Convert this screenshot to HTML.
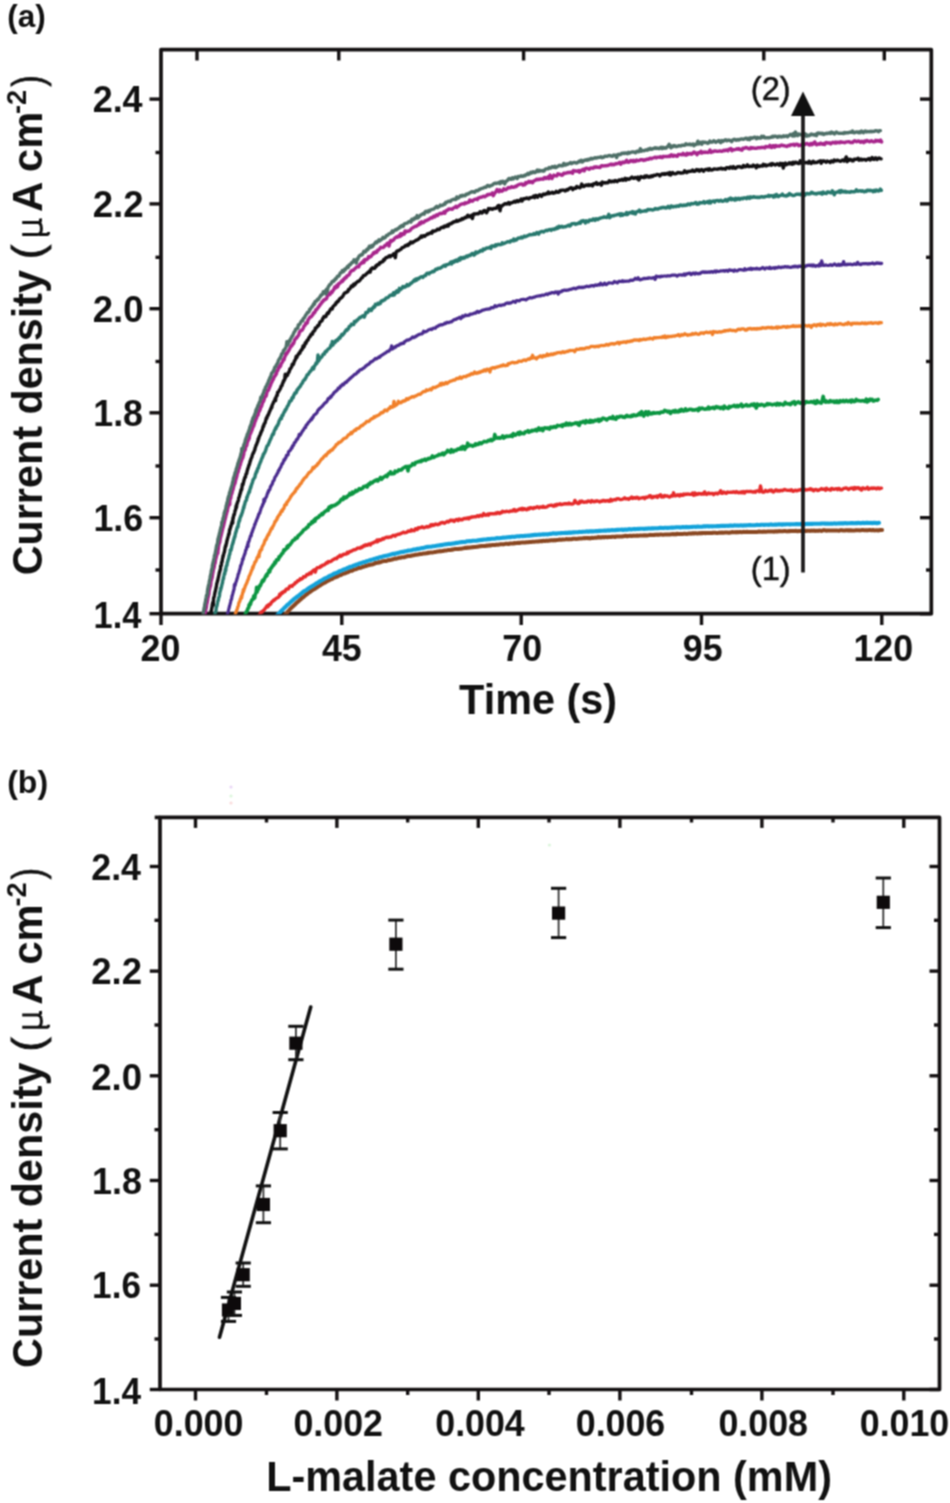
<!DOCTYPE html>
<html><head><meta charset="utf-8"><style>
html,body{margin:0;padding:0;background:#fff;width:950px;height:1503px;overflow:hidden}
svg{display:block;will-change:transform}
text{font-family:"Liberation Sans",sans-serif;fill:#111}
</style></head><body>
<svg width="950" height="1503" viewBox="0 0 950 1503">
<defs><filter id="soft" filterUnits="userSpaceOnUse" x="0" y="0" width="950" height="1503" color-interpolation-filters="sRGB"><feConvolveMatrix order="3" kernelMatrix="1 2 1 2 4 2 1 2 1" divisor="16" edgeMode="duplicate"/></filter></defs>
<g filter="url(#soft)">
<rect width="950" height="1503" fill="#fff"/>
<text transform="translate(7.30,27.20) scale(1.0000,1.0000)" font-size="31.5" text-anchor="start" font-weight="bold" >(a)</text>
<rect x="161.0" y="49.7" width="770.3" height="564.0" fill="none" stroke="#141112" stroke-width="3.7" stroke-linejoin="round"/>
<defs><clipPath id="ca"><rect x="163" y="51" width="766" height="563.2"/></clipPath></defs>
<g clip-path="url(#ca)" fill="none" stroke-linejoin="round" stroke-linecap="round">
<polyline points="280.8,620.2 281.4,618.8 282.0,618.4 282.6,617.5 283.3,616.7 283.9,616.0 284.6,615.0 285.2,614.5 285.9,613.7 286.6,613.5 287.2,612.3 287.9,611.5 288.6,610.8 289.3,610.0 289.9,609.2 290.6,608.6 291.3,608.0 292.0,607.2 292.7,606.7 293.5,605.8 294.2,605.1 294.9,604.7 295.6,603.8 296.4,603.0 297.1,602.4 297.8,601.8 298.6,601.3 299.3,600.3 300.1,599.7 300.9,599.2 301.6,598.3 302.4,597.8 303.2,597.3 303.9,596.6 304.7,595.9 305.5,595.4 306.3,594.3 307.1,594.2 307.9,593.3 308.7,592.6 309.5,592.3 310.3,591.8 311.1,591.1 312.0,590.4 312.8,590.0 313.6,589.4 314.4,589.1 315.3,588.5 316.1,587.8 317.0,587.4 317.8,586.7 318.7,586.1 319.5,585.8 320.4,585.3 321.2,584.6 322.1,584.0 323.0,583.7 323.8,582.8 324.7,582.8 325.6,582.3 326.5,581.5 327.4,581.3 328.2,580.6 329.1,580.4 330.0,579.6 330.9,579.3 331.8,579.1 332.7,578.7 333.6,577.8 334.5,577.6 335.4,577.3 336.3,576.8 337.2,576.7 338.2,575.8 339.1,575.7 340.0,575.1 340.9,575.0 341.8,574.4 342.7,574.0 343.7,573.4 344.6,573.6 345.5,573.1 346.5,572.7 347.4,572.4 348.3,571.9 349.3,571.4 350.2,571.0 351.1,570.7 352.1,570.7 353.0,569.9 354.0,569.7 354.9,569.4 355.9,569.2 356.8,568.9 357.8,568.3 358.7,568.0 359.7,567.9 360.6,567.8 361.6,567.4 362.5,567.0 363.5,566.7 364.4,566.5 365.4,566.1 366.3,566.0 367.3,565.4 368.3,565.3 369.2,565.0 370.2,564.8 371.2,564.5 372.1,564.6 373.1,564.2 374.1,563.9 375.0,563.1 376.0,563.1 377.0,562.8 377.9,562.8 378.9,562.1 379.9,562.4 380.8,562.1 381.8,561.5 382.8,561.3 383.8,561.1 384.7,561.0 385.7,560.9 386.7,560.9 387.6,560.3 388.6,560.3 389.6,559.9 390.6,560.0 391.6,559.6 392.5,559.5 393.5,558.9 394.5,558.8 395.5,558.5 396.4,558.7 397.4,558.4 398.4,558.0 399.4,557.8 400.4,557.8 401.4,557.4 402.3,557.2 403.3,557.2 404.3,557.3 405.3,556.7 406.3,556.5 407.2,556.2 408.2,556.0 409.2,556.1 410.2,556.0 411.2,555.7 412.2,555.5 413.2,555.3 414.1,555.2 415.1,554.8 416.1,554.7 417.1,554.7 418.1,554.4 419.1,554.3 420.1,554.0 421.0,554.0 422.0,554.0 423.0,553.6 424.0,553.5 425.0,553.5 426.0,553.3 427.0,553.3 428.0,552.6 428.9,552.9 429.9,552.6 430.9,552.5 431.9,552.5 432.9,552.4 433.9,552.2 434.9,551.9 435.9,552.0 436.9,551.6 437.9,551.5 438.8,551.5 439.8,551.1 440.8,551.4 441.8,551.1 442.8,551.1 443.8,550.7 444.8,550.5 445.8,550.4 446.8,550.4 447.8,550.1 448.8,550.1 449.8,549.9 450.7,550.0 451.7,549.5 452.7,549.7 453.7,549.3 454.7,549.1 455.7,549.0 456.7,548.9 457.7,548.9 458.7,549.0 459.7,548.7 460.7,548.7 461.7,548.7 462.7,548.4 463.6,548.2 464.6,548.1 465.6,547.7 466.6,548.0 467.6,547.5 468.6,547.7 469.6,547.5 470.6,547.6 471.6,547.3 472.6,547.1 473.6,547.2 474.6,546.9 475.6,546.9 476.6,546.8 477.6,546.7 478.6,546.5 479.6,546.3 480.5,546.3 481.5,545.9 482.5,546.1 483.5,545.9 484.5,546.1 485.5,546.1 486.5,545.5 487.5,545.7 488.5,545.5 489.5,545.3 490.5,545.5 491.5,545.2 492.5,544.9 493.5,545.0 494.5,545.0 495.5,544.9 496.5,544.6 497.5,544.8 498.5,544.7 499.5,544.4 500.5,544.3 501.5,544.3 502.4,544.2 503.4,544.4 504.4,544.1 505.4,543.8 506.4,543.8 507.4,543.8 508.4,544.1 509.4,543.6 510.4,543.6 511.4,543.5 512.4,543.4 513.4,543.6 514.4,543.1 515.4,543.2 516.4,543.1 517.4,543.1 518.4,542.7 519.4,543.1 520.4,542.7 521.4,542.6 522.4,542.4 523.4,542.4 524.4,542.5 525.4,542.5 526.4,542.3 527.4,542.3 528.4,542.2 529.4,542.0 530.3,542.0 531.3,541.9 532.3,541.8 533.3,541.8 534.3,541.8 535.3,541.6 536.3,541.4 537.3,541.5 538.3,541.6 539.3,541.2 540.3,541.2 541.3,541.1 542.3,541.2 543.3,540.7 544.3,540.9 545.3,541.0 546.3,540.6 547.3,540.9 548.3,540.7 549.3,540.5 550.3,540.5 551.3,540.2 552.3,540.2 553.3,540.5 554.3,540.1 555.3,540.4 556.3,540.0 557.3,540.1 558.3,539.9 559.3,539.5 560.3,539.7 561.3,539.8 562.3,539.5 563.3,539.4 564.3,539.6 565.3,539.4 566.3,539.1 567.3,539.2 568.3,539.4 569.3,539.1 570.3,539.3 571.2,539.3 572.2,539.0 573.2,538.8 574.2,538.7 575.2,538.8 576.2,538.9 577.2,538.8 578.2,538.7 579.2,538.5 580.2,538.6 581.2,538.4 582.2,538.4 583.2,538.2 584.2,538.1 585.2,538.2 586.2,538.0 587.2,538.0 588.2,538.2 589.2,538.0 590.2,538.4 591.2,538.0 592.2,537.8 593.2,537.9 594.2,537.8 595.2,537.6 596.2,537.8 597.2,537.5 598.2,537.1 599.2,537.6 600.2,537.3 601.2,537.6 602.2,537.2 603.2,537.1 604.2,537.4 605.2,537.0 606.2,537.1 607.2,537.3 608.2,537.0 609.2,536.9 610.2,536.9 611.2,537.0 612.2,536.7 613.2,536.8 614.2,536.8 615.2,537.0 616.2,536.5 617.2,536.4 618.2,536.6 619.2,536.4 620.2,536.4 621.2,536.4 622.2,536.5 623.2,536.2 624.2,536.2 625.2,535.8 626.2,536.0 627.2,536.3 628.2,535.9 629.2,535.9 630.2,535.7 631.2,536.0 632.2,535.9 633.2,535.6 634.2,535.8 635.2,535.7 636.2,535.8 637.2,535.5 638.2,535.8 639.2,535.6 640.2,535.5 641.2,535.4 642.2,535.4 643.2,535.5 644.2,535.3 645.1,535.4 646.1,535.3 647.1,535.4 648.1,535.3 649.1,535.1 650.1,534.8 651.1,535.1 652.1,535.1 653.1,535.0 654.1,535.0 655.1,534.8 656.1,534.8 657.1,534.6 658.1,534.9 659.1,534.7 660.1,534.6 661.1,534.4 662.1,534.6 663.1,534.8 664.1,534.6 665.1,534.4 666.1,534.6 667.1,534.6 668.1,534.5 669.1,534.4 670.1,534.4 671.1,534.3 672.1,534.3 673.1,534.0 674.1,534.4 675.1,534.1 676.1,534.4 677.1,533.7 678.1,534.1 679.1,534.1 680.1,533.9 681.1,533.9 682.1,534.0 683.1,533.9 684.1,533.7 685.1,533.7 686.1,533.9 687.1,533.9 688.1,533.7 689.1,533.6 690.1,533.6 691.1,533.7 692.1,533.3 693.1,533.3 694.1,533.5 695.1,533.2 696.1,533.3 697.1,533.4 698.1,533.4 699.1,533.1 700.1,533.4 701.1,533.0 702.1,533.3 703.1,532.9 704.1,532.9 705.1,533.2 706.1,533.0 707.1,532.9 708.1,532.9 709.1,533.0 710.1,532.9 711.1,532.9 712.1,533.0 713.1,532.7 714.1,532.8 715.1,532.7 716.1,532.9 717.1,532.9 718.1,532.9 719.1,532.7 720.1,532.6 721.1,532.8 722.1,532.5 723.1,532.7 724.1,532.7 725.1,532.4 726.1,532.5 727.1,532.4 728.1,532.7 729.1,532.8 730.1,532.4 731.1,532.4 732.1,532.0 733.1,532.3 734.1,532.3 735.1,532.1 736.1,532.4 737.1,532.0 738.1,532.2 739.1,532.2 740.1,531.9 741.1,532.2 742.1,532.2 743.1,531.9 744.1,531.8 745.1,532.1 746.1,532.0 747.1,531.8 748.1,531.9 749.1,531.9 750.1,531.9 751.1,532.0 752.1,531.9 753.1,532.1 754.1,532.0 755.1,531.9 756.1,531.9 757.1,531.9 758.1,531.8 759.1,531.5 760.1,531.8 761.1,531.7 762.1,531.9 763.1,531.6 764.1,531.7 765.1,531.6 766.1,531.8 767.1,531.6 768.1,531.5 769.1,531.5 770.1,531.4 771.1,531.5 772.1,531.4 773.1,531.5 774.1,531.7 775.1,531.3 776.1,531.4 777.1,531.3 778.1,531.4 779.1,531.1 780.1,531.2 781.1,531.3 782.1,531.3 783.1,531.2 784.1,531.1 785.1,531.1 786.1,531.2 787.1,531.4 788.1,531.2 789.1,531.1 790.1,531.2 791.1,530.9 792.1,531.0 793.1,531.0 794.1,531.1 795.1,531.0 796.1,530.8 797.1,531.2 798.1,531.2 799.1,530.9 800.1,531.0 801.1,531.0 802.1,531.0 803.1,530.7 804.1,531.1 805.1,530.8 806.1,531.0 807.1,530.8 808.1,530.8 809.1,530.8 810.1,530.9 811.1,530.6 812.1,530.7 813.1,530.7 814.1,530.5 815.1,530.9 816.1,530.8 817.1,530.7 818.1,530.9 819.1,530.5 820.1,530.6 821.1,530.9 822.1,530.8 823.1,530.3 824.1,530.1 825.1,530.4 826.1,530.7 827.1,530.5 828.1,530.5 829.1,530.6 830.1,530.4 831.1,530.6 832.1,530.6 833.1,530.6 834.1,530.5 835.1,530.4 836.1,530.5 837.1,530.4 838.1,530.6 839.1,530.8 840.1,530.3 841.1,530.1 842.1,530.3 843.1,530.5 844.1,530.5 845.1,530.5 846.1,530.2 847.1,530.2 848.1,530.5 849.1,530.2 850.1,530.5 851.1,530.3 852.1,530.4 853.1,530.4 854.1,530.4 855.1,530.4 856.1,530.1 857.1,530.3 858.1,530.3 859.1,530.3 860.1,530.4 861.1,530.2 862.1,530.1 863.1,530.1 864.1,530.2 865.1,530.3 866.1,530.1 867.1,530.4 868.1,530.2 869.1,530.1 870.1,530.0 871.1,530.2 872.1,530.3 873.1,529.9 874.1,530.3 875.1,530.4 876.1,530.2 877.1,530.2 878.1,530.5 879.1,530.3 880.1,530.0 881.1,530.1 882.1,530.1" stroke="#8a4822" stroke-width="4.0"/>
<polyline points="273.0,619.8 273.7,618.8 274.3,618.4 275.0,617.5 275.7,616.9 276.3,616.1 277.0,615.5 277.7,614.6 278.4,613.8 279.1,613.3 279.8,612.7 280.5,611.7 281.2,611.2 281.9,610.4 282.6,609.6 283.3,609.1 284.0,608.2 284.7,607.7 285.5,606.8 286.2,606.2 286.9,605.4 287.6,604.7 288.4,604.3 289.1,603.5 289.9,602.8 290.6,602.1 291.4,601.6 292.1,600.7 292.9,600.1 293.7,599.5 294.4,598.8 295.2,598.2 296.0,597.6 296.8,597.0 297.5,596.4 298.3,596.0 299.1,595.3 299.9,594.7 300.7,593.9 301.5,593.3 302.3,592.6 303.1,592.1 303.9,591.3 304.7,590.9 305.6,590.5 306.4,590.0 307.2,589.4 308.0,588.6 308.9,588.2 309.7,587.5 310.5,587.1 311.4,586.5 312.2,586.1 313.0,585.7 313.9,585.0 314.7,584.6 315.6,583.9 316.4,583.3 317.3,583.0 318.2,582.5 319.0,581.7 319.9,581.3 320.8,580.6 321.6,580.3 322.5,579.9 323.4,579.3 324.3,578.8 325.1,578.2 326.0,578.0 326.9,577.5 327.8,577.1 328.7,576.6 329.6,575.9 330.5,575.8 331.4,575.2 332.3,574.7 333.2,574.4 334.1,573.6 335.0,573.4 335.9,573.0 336.8,572.7 337.7,572.4 338.6,571.9 339.5,571.2 340.4,570.9 341.4,570.6 342.3,570.2 343.2,569.7 344.1,569.2 345.0,569.1 346.0,568.7 346.9,568.3 347.8,567.7 348.8,567.8 349.7,566.8 350.6,566.8 351.6,566.7 352.5,566.1 353.4,565.8 354.4,565.3 355.3,565.2 356.2,564.6 357.2,564.4 358.1,564.1 359.1,563.6 360.0,563.5 361.0,562.9 361.9,562.7 362.9,562.5 363.8,562.1 364.8,561.9 365.7,561.7 366.7,561.2 367.6,560.9 368.6,560.6 369.5,560.3 370.5,560.2 371.5,559.7 372.4,559.5 373.4,559.2 374.3,558.8 375.3,558.8 376.3,558.3 377.2,558.1 378.2,558.0 379.1,557.4 380.1,557.3 381.1,556.9 382.0,556.7 383.0,556.4 384.0,556.3 384.9,556.0 385.9,555.8 386.9,555.7 387.9,555.3 388.8,555.2 389.8,554.8 390.8,554.6 391.7,554.3 392.7,553.9 393.7,553.9 394.7,553.9 395.6,553.5 396.6,553.2 397.6,553.2 398.6,552.7 399.5,552.5 400.5,552.2 401.5,552.0 402.5,551.9 403.5,552.0 404.4,551.5 405.4,551.2 406.4,551.1 407.4,550.9 408.4,550.5 409.3,550.6 410.3,550.4 411.3,550.2 412.3,550.0 413.3,549.6 414.2,549.4 415.2,549.6 416.2,549.3 417.2,548.8 418.2,548.9 419.2,548.7 420.1,548.6 421.1,548.3 422.1,548.1 423.1,548.0 424.1,547.8 425.1,547.6 426.0,547.2 427.0,546.9 428.0,547.0 429.0,546.8 430.0,546.8 431.0,546.7 432.0,546.5 433.0,546.3 433.9,546.2 434.9,546.2 435.9,545.8 436.9,545.8 437.9,545.6 438.9,545.4 439.9,545.4 440.9,545.0 441.9,545.1 442.8,544.7 443.8,544.6 444.8,544.4 445.8,544.4 446.8,544.1 447.8,544.1 448.8,543.8 449.8,544.0 450.8,543.9 451.8,543.6 452.7,543.6 453.7,543.4 454.7,543.4 455.7,543.0 456.7,542.7 457.7,542.9 458.7,542.6 459.7,542.4 460.7,542.3 461.7,542.1 462.7,542.1 463.7,541.9 464.6,542.1 465.6,541.8 466.6,541.4 467.6,541.3 468.6,541.3 469.6,541.1 470.6,541.2 471.6,541.0 472.6,540.8 473.6,540.8 474.6,540.8 475.6,540.8 476.6,540.7 477.6,540.4 478.5,540.4 479.5,540.1 480.5,540.1 481.5,539.8 482.5,539.9 483.5,539.6 484.5,539.5 485.5,539.5 486.5,539.5 487.5,539.1 488.5,539.1 489.5,539.1 490.5,539.0 491.5,538.8 492.5,538.8 493.5,538.7 494.5,538.8 495.5,538.6 496.5,538.2 497.4,538.0 498.4,538.2 499.4,538.2 500.4,538.0 501.4,538.0 502.4,537.8 503.4,537.6 504.4,537.7 505.4,537.5 506.4,537.5 507.4,537.2 508.4,537.3 509.4,537.1 510.4,537.2 511.4,536.9 512.4,536.8 513.4,536.7 514.4,536.9 515.4,536.6 516.4,536.5 517.4,536.3 518.4,536.3 519.4,536.5 520.4,536.0 521.4,536.0 522.3,536.1 523.3,536.1 524.3,535.9 525.3,535.9 526.3,535.8 527.3,535.8 528.3,535.6 529.3,535.7 530.3,535.4 531.3,535.5 532.3,535.1 533.3,535.3 534.3,534.9 535.3,534.8 536.3,535.0 537.3,534.8 538.3,534.8 539.3,534.6 540.3,534.8 541.3,534.6 542.3,534.4 543.3,534.4 544.3,534.5 545.3,534.2 546.3,534.3 547.3,534.4 548.3,534.2 549.3,534.0 550.3,533.9 551.3,533.9 552.3,533.6 553.3,533.3 554.3,533.6 555.3,533.4 556.3,533.7 557.2,533.5 558.2,533.3 559.2,533.2 560.2,533.3 561.2,533.1 562.2,533.0 563.2,533.0 564.2,533.0 565.2,532.9 566.2,532.9 567.2,532.9 568.2,532.9 569.2,532.5 570.2,532.9 571.2,532.5 572.2,532.6 573.2,532.3 574.2,532.4 575.2,532.3 576.2,532.2 577.2,532.3 578.2,532.2 579.2,531.9 580.2,532.0 581.2,532.0 582.2,531.9 583.2,531.8 584.2,531.7 585.2,531.7 586.2,531.5 587.2,531.4 588.2,531.7 589.2,531.4 590.2,531.4 591.2,531.3 592.2,531.4 593.2,531.4 594.2,531.2 595.2,531.2 596.2,531.0 597.2,531.2 598.2,531.1 599.2,530.8 600.2,531.0 601.2,530.8 602.2,530.8 603.2,530.7 604.2,530.6 605.2,530.5 606.2,530.6 607.2,530.5 608.2,530.3 609.2,530.6 610.2,530.3 611.2,530.2 612.2,530.1 613.2,530.3 614.2,530.2 615.2,530.1 616.1,530.1 617.1,529.8 618.1,529.9 619.1,529.8 620.1,529.8 621.1,529.8 622.1,529.5 623.1,530.1 624.1,529.5 625.1,529.6 626.1,529.6 627.1,529.6 628.1,529.5 629.1,529.1 630.1,529.2 631.1,529.4 632.1,529.2 633.1,529.1 634.1,528.9 635.1,529.3 636.1,529.1 637.1,528.9 638.1,529.0 639.1,528.9 640.1,528.8 641.1,528.8 642.1,528.8 643.1,528.8 644.1,528.9 645.1,528.7 646.1,528.6 647.1,528.7 648.1,528.5 649.1,528.4 650.1,528.6 651.1,528.4 652.1,528.4 653.1,528.4 654.1,528.2 655.1,528.3 656.1,528.3 657.1,528.2 658.1,528.2 659.1,528.0 660.1,527.8 661.1,528.0 662.1,527.9 663.1,528.1 664.1,527.9 665.1,527.8 666.1,527.8 667.1,528.0 668.1,527.9 669.1,527.8 670.1,527.7 671.1,527.6 672.1,527.6 673.1,527.6 674.1,527.5 675.1,527.5 676.1,527.3 677.1,527.2 678.1,527.2 679.1,527.3 680.1,527.5 681.1,527.4 682.1,527.1 683.1,527.0 684.1,527.3 685.1,527.2 686.1,526.9 687.1,527.2 688.1,527.1 689.1,527.2 690.1,527.0 691.1,527.0 692.1,526.9 693.1,526.7 694.1,526.8 695.1,526.7 696.1,526.9 697.1,526.6 698.1,526.5 699.1,526.7 700.1,526.8 701.1,526.8 702.1,526.7 703.1,526.4 704.1,526.4 705.1,526.4 706.1,526.4 707.1,526.1 708.1,526.4 709.1,526.4 710.1,526.2 711.1,526.3 712.1,526.4 713.1,526.2 714.1,526.3 715.1,526.3 716.1,526.2 717.1,526.1 718.1,526.0 719.1,526.2 720.1,526.0 721.1,525.9 722.1,526.0 723.1,525.8 724.1,525.9 725.1,526.0 726.1,525.8 727.1,525.8 728.1,525.9 729.1,525.8 730.1,525.5 731.1,525.5 732.1,525.8 733.1,525.7 734.1,525.4 735.1,525.4 736.1,525.6 737.1,525.4 738.1,525.6 739.1,525.5 740.1,525.5 741.1,525.3 742.1,525.5 743.1,525.6 744.1,525.3 745.1,525.5 746.1,525.4 747.1,525.3 748.1,525.2 749.1,525.1 750.1,525.1 751.1,525.3 752.1,525.3 753.1,525.3 754.1,525.2 755.1,525.2 756.1,525.0 757.1,524.9 758.1,525.0 759.1,525.0 760.1,525.0 761.1,524.7 762.1,524.8 763.1,524.7 764.1,524.9 765.1,524.7 766.1,524.8 767.1,524.8 768.1,524.8 769.1,524.9 770.1,524.6 771.1,524.4 772.1,524.8 773.1,524.8 774.1,524.8 775.1,524.6 776.1,524.6 777.1,524.6 778.1,524.4 779.1,524.4 780.1,524.5 781.1,524.4 782.1,524.7 783.0,524.2 784.0,524.4 785.0,524.5 786.0,524.3 787.0,524.2 788.0,524.2 789.0,524.2 790.0,524.5 791.0,524.3 792.0,524.3 793.0,524.2 794.0,524.3 795.0,524.2 796.0,524.0 797.0,524.1 798.0,524.1 799.0,524.2 800.0,524.1 801.0,524.1 802.0,524.3 803.0,523.9 804.0,523.9 805.0,524.1 806.0,524.0 807.0,523.9 808.0,524.0 809.0,523.9 810.0,524.0 811.0,523.8 812.0,524.0 813.0,523.7 814.0,523.7 815.0,523.8 816.0,523.7 817.0,523.8 818.0,523.7 819.0,523.7 820.0,523.7 821.0,523.6 822.0,523.5 823.0,523.5 824.0,523.5 825.0,523.6 826.0,523.6 827.0,523.7 828.0,523.6 829.0,523.8 830.0,523.7 831.0,523.5 832.0,523.7 833.0,523.6 834.0,523.4 835.0,523.5 836.0,523.6 837.0,523.5 838.0,523.5 839.0,523.4 840.0,523.5 841.0,523.3 842.0,523.4 843.0,523.3 844.0,523.4 845.0,523.1 846.0,523.3 847.0,523.4 848.0,523.3 849.0,523.2 850.0,523.3 851.0,523.1 852.0,523.1 853.0,523.1 854.0,523.2 855.0,523.3 856.0,523.0 857.0,523.3 858.0,522.9 859.0,523.0 860.0,523.1 861.0,523.2 862.0,523.0 863.0,522.8 864.0,523.1 865.0,523.0 866.0,522.9 867.0,522.9 868.0,522.9 869.0,523.0 870.0,523.0 871.0,522.8 872.0,523.2 873.0,522.9 874.0,522.9 875.0,523.0 876.0,522.9 877.0,523.2 878.0,523.0 879.0,522.8" stroke="#13a2da" stroke-width="4.1"/>
<polyline points="254.8,619.6 255.4,618.8 256.1,618.1 256.8,618.0 257.4,616.5 258.1,617.0 258.8,615.3 259.5,614.6 260.1,614.4 260.8,612.1 261.5,611.9 262.2,612.1 262.9,611.0 263.6,610.3 264.3,609.8 265.0,608.6 265.7,608.1 266.4,606.7 267.1,605.7 267.9,606.8 268.6,604.9 269.3,604.3 270.0,604.8 270.7,603.9 271.5,602.3 272.2,601.6 272.9,601.2 273.7,600.0 274.4,600.2 275.2,599.3 275.9,598.6 276.6,598.3 277.4,597.6 278.1,597.6 278.9,596.8 279.7,594.3 280.4,595.1 281.2,593.4 281.9,592.5 282.7,593.1 283.5,591.7 284.3,591.2 285.0,591.4 285.8,589.8 286.6,589.0 287.4,589.1 288.2,589.0 288.9,588.0 289.7,586.2 290.5,586.1 291.3,585.8 292.1,586.3 292.9,585.1 293.7,584.5 294.5,584.1 295.3,582.7 296.1,582.5 297.0,582.0 297.8,580.6 298.6,580.5 299.4,580.3 300.2,578.8 301.0,579.2 301.9,578.7 302.7,578.2 303.5,576.7 304.4,576.6 305.2,576.8 306.0,575.9 306.9,574.5 307.7,574.5 308.5,574.6 309.4,573.2 310.2,573.0 311.1,573.6 311.9,571.7 312.8,571.1 313.6,570.1 314.5,569.8 315.3,572.1 316.2,569.0 317.1,567.9 317.9,567.6 318.8,567.6 319.7,567.5 320.5,566.2 321.4,566.5 322.3,565.3 323.1,565.3 324.0,564.9 324.9,564.5 325.8,563.4 326.6,562.6 327.5,563.0 328.4,561.5 329.3,561.9 330.2,561.6 331.1,561.4 332.0,560.4 332.8,559.8 333.7,559.5 334.6,558.6 335.5,558.5 336.4,558.7 337.3,557.8 338.2,556.7 339.1,556.6 340.0,555.2 340.9,556.4 341.8,555.2 342.7,555.2 343.6,554.1 344.5,554.2 345.4,554.1 346.4,554.0 347.3,552.3 348.2,553.1 349.1,552.1 350.0,551.4 350.9,551.6 351.8,550.8 352.8,550.4 353.7,549.8 354.6,549.9 355.5,549.4 356.5,548.9 357.4,548.1 358.3,548.0 359.2,548.1 360.2,548.2 361.1,547.1 362.0,547.6 362.9,546.4 363.9,545.4 364.8,546.0 365.7,544.8 366.7,545.2 367.6,545.2 368.5,544.1 369.5,543.9 370.4,544.9 371.4,543.3 372.3,543.0 373.2,543.0 374.2,542.1 375.1,541.8 376.1,541.7 377.0,539.9 377.9,541.6 378.9,539.9 379.8,539.6 380.8,540.2 381.7,539.6 382.7,538.5 383.6,539.0 384.6,538.0 385.5,537.9 386.5,537.2 387.4,537.2 388.4,537.6 389.3,537.1 390.3,536.9 391.2,537.0 392.2,536.1 393.1,535.5 394.1,535.4 395.1,536.2 396.0,535.0 397.0,534.9 397.9,534.3 398.9,534.2 399.8,534.1 400.8,533.5 401.8,533.2 402.7,532.6 403.7,532.2 404.6,532.7 405.6,532.6 406.6,532.4 407.5,531.7 408.5,530.9 409.5,531.4 410.4,531.2 411.4,529.7 412.4,530.7 413.3,530.4 414.3,530.7 415.3,528.9 416.2,528.6 417.2,529.5 418.2,527.8 419.1,528.1 420.1,527.7 421.1,527.5 422.0,526.7 423.0,527.4 424.0,527.8 424.9,527.3 425.9,527.1 426.9,526.4 427.9,527.1 428.8,526.4 429.8,526.5 430.8,524.8 431.7,525.6 432.7,524.6 433.7,525.2 434.7,524.8 435.6,523.9 436.6,524.4 437.6,524.7 438.6,524.1 439.5,524.0 440.5,522.9 441.5,522.8 442.5,522.4 443.5,522.8 444.4,523.2 445.4,522.6 446.4,522.1 447.4,521.3 448.3,522.0 449.3,521.4 450.3,520.3 451.3,520.2 452.3,520.7 453.2,520.2 454.2,521.4 455.2,520.3 456.2,519.5 457.2,519.7 458.1,520.6 459.1,519.0 460.1,519.8 461.1,519.4 462.1,519.8 463.0,519.1 464.0,518.4 465.0,518.7 466.0,518.2 467.0,518.6 468.0,517.8 468.9,518.7 469.9,517.4 470.9,517.5 471.9,516.8 472.9,517.0 473.9,516.8 474.8,516.7 475.8,516.9 476.8,516.0 477.8,515.6 478.8,516.5 479.8,515.6 480.8,515.2 481.7,516.0 482.7,515.7 483.7,513.6 484.7,514.7 485.7,515.2 486.7,515.0 487.7,514.1 488.6,515.1 489.6,513.6 490.6,513.8 491.6,513.8 492.6,513.6 493.6,513.9 494.6,513.8 495.6,513.1 496.5,513.7 497.5,512.5 498.5,512.6 499.5,513.5 500.5,512.4 501.5,512.8 502.5,511.3 503.5,511.8 504.5,511.7 505.4,511.7 506.4,511.3 507.4,511.4 508.4,511.6 509.4,511.7 510.4,511.0 511.4,511.1 512.4,511.1 513.4,509.9 514.4,509.5 515.3,511.1 516.3,510.8 517.3,510.0 518.3,510.0 519.3,509.1 520.3,508.8 521.3,509.6 522.3,508.4 523.3,509.6 524.3,508.6 525.3,509.0 526.2,509.8 527.2,509.6 528.2,508.3 529.2,508.9 530.2,507.7 531.2,507.8 532.2,508.2 533.2,508.6 534.2,507.4 535.2,507.9 536.2,507.5 537.2,506.7 538.1,507.1 539.1,507.9 540.1,506.9 541.1,507.1 542.1,507.2 543.1,506.2 544.1,507.2 545.1,507.2 546.1,507.1 547.1,506.9 548.1,505.8 549.1,505.6 550.1,505.4 551.1,505.2 552.1,505.1 553.0,506.0 554.0,506.2 555.0,504.9 556.0,505.6 557.0,504.3 558.0,504.7 559.0,504.3 560.0,503.8 561.0,504.6 562.0,504.5 563.0,504.1 564.0,504.0 565.0,503.6 566.0,504.0 567.0,503.6 568.0,504.0 569.0,503.1 569.9,503.8 570.9,503.8 571.9,504.1 572.9,503.9 573.9,503.3 574.9,500.4 575.9,502.0 576.9,502.9 577.9,503.6 578.9,503.6 579.9,501.2 580.9,502.1 581.9,501.0 582.9,501.8 583.9,502.4 584.9,502.2 585.9,501.8 586.9,502.0 587.9,501.0 588.9,501.3 589.9,501.2 590.8,502.1 591.8,500.6 592.8,501.3 593.8,501.8 594.8,501.2 595.8,501.6 596.8,500.7 597.8,501.2 598.8,501.4 599.8,502.0 600.8,501.1 601.8,501.4 602.8,500.5 603.8,500.5 604.8,501.2 605.8,500.6 606.8,501.0 607.8,500.5 608.8,501.2 609.8,501.3 610.8,499.4 611.8,500.8 612.8,500.0 613.8,499.9 614.8,499.5 615.8,499.9 616.8,498.8 617.7,498.9 618.7,498.8 619.7,499.3 620.7,499.6 621.7,499.4 622.7,499.1 623.7,498.5 624.7,497.8 625.7,498.9 626.7,498.7 627.7,498.7 628.7,499.3 629.7,498.3 630.7,498.2 631.7,497.0 632.7,498.5 633.7,498.1 634.7,497.6 635.7,498.2 636.7,497.3 637.7,497.5 638.7,498.8 639.7,498.1 640.7,498.1 641.7,497.9 642.7,497.8 643.7,497.5 644.7,498.6 645.7,497.2 646.7,497.6 647.7,497.0 648.7,496.9 649.7,495.6 650.7,495.9 651.7,497.7 652.7,497.6 653.7,496.5 654.7,496.6 655.7,496.9 656.6,496.0 657.6,497.4 658.6,495.8 659.6,495.9 660.6,494.7 661.6,497.0 662.6,496.2 663.6,497.0 664.6,495.5 665.6,496.1 666.6,495.9 667.6,495.9 668.6,496.9 669.6,497.0 670.6,496.4 671.6,495.4 672.6,496.0 673.6,492.8 674.6,495.7 675.6,495.7 676.6,495.6 677.6,494.7 678.6,495.3 679.6,496.0 680.6,494.5 681.6,495.1 682.6,495.4 683.6,494.1 684.6,494.8 685.6,493.9 686.6,494.4 687.6,493.9 688.6,494.1 689.6,494.3 690.6,494.4 691.6,494.3 692.6,493.1 693.6,495.2 694.6,492.9 695.6,494.8 696.6,493.8 697.6,494.3 698.6,493.5 699.6,493.8 700.6,493.7 701.6,494.2 702.6,493.5 703.6,494.1 704.6,491.9 705.6,493.6 706.6,494.4 707.6,493.6 708.6,492.9 709.6,493.7 710.6,493.6 711.6,493.4 712.6,493.5 713.6,494.6 714.6,493.4 715.6,493.5 716.6,493.1 717.6,493.9 718.6,493.1 719.6,492.6 720.6,490.8 721.6,493.3 722.6,493.3 723.5,492.0 724.5,492.4 725.5,493.1 726.5,493.3 727.5,492.0 728.5,492.4 729.5,492.4 730.5,492.3 731.5,492.3 732.5,492.2 733.5,491.7 734.5,492.4 735.5,492.5 736.5,491.5 737.5,492.3 738.5,492.8 739.5,492.3 740.5,492.7 741.5,491.8 742.5,492.8 743.5,491.6 744.5,493.0 745.5,491.7 746.5,491.5 747.5,491.4 748.5,491.6 749.5,491.5 750.5,491.4 751.5,491.5 752.5,492.0 753.5,492.1 754.5,491.4 755.5,492.2 756.5,491.0 757.5,490.9 758.5,490.8 759.5,491.7 760.5,486.0 761.5,490.6 762.5,492.0 763.5,492.2 764.5,491.9 765.5,490.4 766.5,491.1 767.5,491.6 768.5,491.1 769.5,490.2 770.5,490.8 771.5,490.0 772.5,491.5 773.5,492.1 774.5,491.2 775.5,490.0 776.5,490.0 777.5,491.0 778.5,490.4 779.5,491.0 780.5,490.3 781.5,490.5 782.5,490.7 783.5,490.0 784.5,489.5 785.5,489.8 786.5,490.1 787.5,490.3 788.5,490.4 789.5,490.3 790.5,490.6 791.5,489.8 792.5,491.0 793.5,491.3 794.5,490.4 795.5,490.3 796.5,490.8 797.5,490.5 798.5,490.2 799.5,490.0 800.5,489.6 801.5,489.4 802.5,490.3 803.5,490.6 804.5,489.3 805.5,489.8 806.5,490.0 807.5,489.6 808.5,489.4 809.5,489.5 810.5,488.7 811.5,489.7 812.5,489.5 813.5,490.8 814.5,490.1 815.5,489.4 816.5,489.6 817.5,490.5 818.5,490.4 819.5,489.6 820.5,489.4 821.5,488.6 822.5,489.2 823.5,489.3 824.5,489.0 825.5,490.3 826.5,488.3 827.5,489.2 828.5,489.5 829.5,489.5 830.5,490.1 831.5,488.4 832.5,488.7 833.5,489.2 834.5,489.2 835.5,488.9 836.5,488.6 837.5,489.6 838.5,488.4 839.5,488.7 840.5,489.8 841.5,489.9 842.5,489.4 843.5,488.4 844.5,488.4 845.5,487.9 846.5,488.2 847.5,488.6 848.5,489.5 849.5,488.9 850.5,488.3 851.5,488.3 852.5,488.0 853.5,489.3 854.5,487.5 855.5,488.8 856.5,487.8 857.5,488.0 858.5,487.7 859.5,489.1 860.5,488.5 861.5,490.0 862.5,487.9 863.5,487.9 864.5,488.8 865.5,488.7 866.5,488.2 867.5,487.3 868.5,489.2 869.5,488.7 870.5,488.5 871.5,488.0 872.5,488.6 873.5,488.0 874.5,488.3 875.5,488.1 876.5,488.9 877.5,487.9 878.5,488.0 879.5,488.8 880.5,488.2 881.5,488.1" stroke="#e52b2b" stroke-width="3.4"/>
<polyline points="242.8,618.3 243.2,618.7 243.6,616.9 244.0,616.9 244.4,615.5 244.8,615.6 245.2,614.6 245.7,613.1 246.1,612.1 246.5,611.6 247.0,611.3 247.4,610.2 247.8,608.7 248.3,607.9 248.7,607.9 249.1,604.7 249.6,605.4 250.0,603.5 250.5,604.2 250.9,602.0 251.4,601.4 251.9,599.8 252.3,599.7 252.8,599.3 253.2,599.1 253.7,596.1 254.2,595.8 254.7,598.0 255.1,595.0 255.6,593.5 256.1,593.0 256.6,587.3 257.1,592.0 257.6,590.1 258.1,588.1 258.6,589.1 259.1,587.0 259.6,585.8 260.1,586.1 260.6,585.1 261.1,583.7 261.6,583.1 262.1,581.3 262.6,580.4 263.2,581.2 263.7,580.6 264.2,579.2 264.7,578.3 265.3,576.9 265.8,576.2 266.4,574.8 266.9,575.9 267.5,573.4 268.0,573.3 268.6,572.1 269.1,570.3 269.7,571.8 270.2,569.4 270.8,568.3 271.4,568.1 271.9,566.6 272.5,566.4 273.1,564.9 273.7,565.1 274.3,564.0 274.8,562.2 275.4,563.0 276.0,561.6 276.6,559.9 277.2,560.1 277.8,559.9 278.4,559.6 279.0,556.9 279.6,557.3 280.3,555.9 280.9,555.6 281.5,554.2 282.1,553.5 282.8,553.2 283.4,551.2 284.0,549.8 284.7,550.5 285.3,549.4 285.9,549.0 286.6,548.6 287.2,546.3 287.9,547.5 288.5,545.2 289.2,545.2 289.9,545.0 290.5,544.1 291.2,542.9 291.9,542.3 292.5,540.9 293.2,540.3 293.9,540.1 294.6,539.8 295.3,538.2 296.0,538.4 296.6,538.4 297.3,537.9 298.0,535.7 298.7,535.7 299.4,534.7 300.2,534.1 300.9,533.4 301.6,532.5 302.3,532.0 303.0,530.9 303.7,529.9 304.5,529.5 305.2,529.0 305.9,528.8 306.6,527.6 307.4,527.1 308.1,526.9 308.9,524.6 309.6,524.4 310.3,524.3 311.1,523.3 311.8,521.9 312.6,522.7 313.4,521.3 314.1,519.9 314.9,521.3 315.6,518.5 316.4,518.7 317.2,517.6 318.0,517.5 318.7,517.2 319.5,515.6 320.3,515.5 321.1,514.8 321.8,513.6 322.6,514.5 323.4,513.2 324.2,512.3 325.0,511.4 325.8,511.0 326.6,510.7 327.4,509.7 328.2,510.3 329.0,507.1 329.8,506.8 330.6,507.5 331.4,505.8 332.3,506.5 333.1,505.5 333.9,505.8 334.7,505.1 335.5,505.1 336.3,504.3 337.2,504.0 338.0,502.9 338.8,502.7 339.7,501.8 340.5,500.4 341.3,499.4 342.2,498.9 343.0,499.6 343.8,497.0 344.7,498.3 345.5,497.1 346.4,497.6 347.2,496.7 348.1,495.5 348.9,495.5 349.8,493.4 350.6,494.6 351.5,494.3 352.4,492.1 353.2,493.5 354.1,492.3 354.9,492.0 355.8,490.4 356.7,491.3 357.5,490.8 358.4,489.9 359.3,488.7 360.1,489.4 361.0,489.3 361.9,488.2 362.8,488.2 363.6,486.6 364.5,486.6 365.4,486.3 366.3,485.7 367.2,487.1 368.1,484.9 368.9,483.8 369.8,484.3 370.7,482.5 371.6,483.0 372.5,482.9 373.4,481.5 374.3,481.2 375.2,480.3 376.1,480.6 377.0,479.6 377.9,480.9 378.8,479.7 379.7,478.6 380.6,477.4 381.5,479.3 382.4,478.4 383.3,477.4 384.2,476.8 385.1,476.3 386.0,475.5 386.9,476.7 387.8,475.1 388.7,473.5 389.6,473.7 390.5,471.9 391.4,473.8 392.4,473.4 393.3,473.8 394.2,473.6 395.1,471.2 396.0,471.6 396.9,471.6 397.9,471.1 398.8,469.8 399.7,470.3 400.6,469.7 401.5,469.9 402.5,468.6 403.4,468.0 404.3,467.5 405.2,466.8 406.2,466.5 407.1,466.5 408.0,471.0 409.0,466.3 409.9,466.5 410.8,466.0 411.8,465.3 412.7,463.7 413.6,464.5 414.6,464.6 415.5,462.5 416.4,462.3 417.4,462.0 418.3,461.6 419.2,461.8 420.2,461.0 421.1,461.6 422.0,460.1 423.0,460.5 423.9,459.9 424.9,459.2 425.8,460.3 426.7,459.3 427.7,459.3 428.6,458.3 429.6,458.7 430.5,458.3 431.5,457.5 432.4,456.0 433.4,457.5 434.3,457.1 435.2,456.4 436.2,456.1 437.1,455.7 438.1,455.5 439.0,454.3 440.0,454.7 440.9,454.6 441.9,453.7 442.8,453.1 443.8,454.8 444.7,453.6 445.7,452.7 446.7,452.2 447.6,450.4 448.6,451.0 449.5,451.5 450.5,452.3 451.4,449.6 452.4,450.3 453.3,451.8 454.3,450.7 455.3,450.2 456.2,450.5 457.2,449.3 458.1,448.9 459.1,449.3 460.0,449.1 461.0,447.5 462.0,449.0 462.9,446.4 463.9,446.9 464.9,449.3 465.8,446.5 466.8,447.0 467.7,443.2 468.7,445.8 469.7,445.3 470.6,445.2 471.6,445.7 472.6,446.2 473.5,445.3 474.5,445.5 475.5,443.8 476.4,444.9 477.4,444.1 478.4,444.4 479.3,442.9 480.3,442.7 481.3,443.6 482.2,442.8 483.2,442.2 484.2,441.4 485.1,441.6 486.1,441.7 487.1,441.7 488.0,440.5 489.0,440.4 490.0,440.7 490.9,439.4 491.9,440.6 492.9,439.7 493.9,439.4 494.8,434.4 495.8,437.9 496.8,438.0 497.8,438.1 498.7,437.5 499.7,438.3 500.7,437.9 501.6,437.4 502.6,435.9 503.6,438.1 504.6,436.7 505.5,437.1 506.5,436.0 507.5,436.2 508.5,436.5 509.4,436.0 510.4,436.3 511.4,435.2 512.4,436.5 513.4,433.6 514.3,434.3 515.3,435.2 516.3,434.1 517.3,433.8 518.2,432.6 519.2,434.5 520.2,432.1 521.2,433.6 522.2,433.2 523.1,433.5 524.1,433.7 525.1,432.0 526.1,431.7 527.1,431.8 528.0,430.6 529.0,432.2 530.0,431.2 531.0,431.4 532.0,430.3 532.9,430.9 533.9,430.2 534.9,430.4 535.9,429.5 536.9,430.8 537.8,429.4 538.8,427.9 539.8,430.0 540.8,429.1 541.8,428.5 542.8,430.7 543.7,428.7 544.7,427.7 545.7,428.0 546.7,428.5 547.7,427.9 548.7,428.7 549.6,429.1 550.6,427.0 551.6,427.4 552.6,427.6 553.6,426.7 554.6,426.5 555.5,427.3 556.5,426.8 557.5,425.3 558.5,425.8 559.5,425.7 560.5,425.7 561.5,425.1 562.4,426.4 563.4,424.6 564.4,424.4 565.4,425.1 566.4,423.2 567.4,423.9 568.4,424.9 569.4,423.4 570.3,423.6 571.3,424.8 572.3,424.2 573.3,423.7 574.3,423.7 575.3,422.9 576.3,423.4 577.3,422.9 578.2,424.7 579.2,425.3 580.2,422.4 581.2,422.4 582.2,422.4 583.2,421.2 584.2,421.4 585.2,422.9 586.2,420.7 587.1,421.2 588.1,422.1 589.1,422.3 590.1,420.4 591.1,422.0 592.1,420.6 593.1,421.9 594.1,420.9 595.1,420.2 596.0,420.8 597.0,420.6 598.0,419.5 599.0,421.4 600.0,419.5 601.0,420.4 602.0,419.1 603.0,418.1 604.0,418.4 605.0,419.0 606.0,419.4 606.9,420.0 607.9,418.7 608.9,418.3 609.9,417.6 610.9,418.3 611.9,418.4 612.9,416.5 613.9,418.8 614.9,418.6 615.9,419.2 616.9,416.9 617.9,417.4 618.8,417.3 619.8,416.2 620.8,416.4 621.8,416.2 622.8,417.1 623.8,417.0 624.8,417.5 625.8,416.1 626.8,415.3 627.8,416.5 628.8,416.3 629.8,416.4 630.8,416.7 631.8,415.3 632.7,416.1 633.7,414.8 634.7,415.5 635.7,415.7 636.7,415.0 637.7,415.2 638.7,413.9 639.7,413.0 640.7,414.8 641.7,411.7 642.7,413.9 643.7,416.1 644.7,414.4 645.7,411.8 646.7,413.3 647.7,414.9 648.6,411.8 649.6,413.4 650.6,414.0 651.6,413.1 652.6,413.7 653.6,412.5 654.6,413.1 655.6,413.1 656.6,412.9 657.6,412.9 658.6,412.7 659.6,413.4 660.6,412.3 661.6,412.0 662.6,412.1 663.6,412.0 664.6,410.3 665.6,410.7 666.6,411.0 667.6,412.0 668.5,411.3 669.5,411.3 670.5,413.5 671.5,412.2 672.5,411.2 673.5,410.8 674.5,412.1 675.5,410.5 676.5,411.8 677.5,411.3 678.5,411.8 679.5,410.2 680.5,411.2 681.5,409.3 682.5,410.3 683.5,411.1 684.5,410.7 685.5,408.9 686.5,410.6 687.5,410.3 688.5,409.9 689.5,409.3 690.5,409.5 691.5,409.3 692.5,410.2 693.4,409.8 694.4,410.2 695.4,409.8 696.4,409.6 697.4,409.2 698.4,410.6 699.4,408.2 700.4,409.1 701.4,408.3 702.4,408.1 703.4,408.8 704.4,409.2 705.4,409.1 706.4,408.8 707.4,409.0 708.4,407.1 709.4,408.8 710.4,408.4 711.4,407.9 712.4,408.0 713.4,407.3 714.4,408.6 715.4,407.2 716.4,406.6 717.4,407.6 718.4,407.1 719.4,407.4 720.4,408.4 721.4,407.2 722.4,407.3 723.4,408.8 724.4,406.1 725.4,407.3 726.4,407.8 727.3,408.0 728.3,408.4 729.3,406.3 730.3,407.1 731.3,406.6 732.3,406.2 733.3,406.0 734.3,405.4 735.3,406.6 736.3,406.8 737.3,405.5 738.3,406.7 739.3,405.7 740.3,405.3 741.3,404.1 742.3,406.7 743.3,406.3 744.3,405.6 745.3,405.4 746.3,404.7 747.3,406.0 748.3,405.5 749.3,405.9 750.3,405.5 751.3,404.4 752.3,404.2 753.3,405.5 754.3,404.0 755.3,405.3 756.3,408.0 757.3,404.1 758.3,405.4 759.3,404.9 760.3,405.2 761.3,404.3 762.3,404.7 763.3,405.0 764.3,405.9 765.3,405.1 766.3,404.9 767.3,403.6 768.3,404.6 769.3,403.9 770.3,404.3 771.3,404.4 772.3,404.9 773.3,404.6 774.3,404.2 775.3,404.0 776.3,405.0 777.3,403.3 778.3,403.9 779.3,404.8 780.3,403.7 781.3,404.3 782.2,404.3 783.2,405.0 784.2,404.4 785.2,402.4 786.2,403.5 787.2,403.7 788.2,404.0 789.2,403.6 790.2,404.6 791.2,404.0 792.2,402.4 793.2,402.7 794.2,401.6 795.2,404.3 796.2,402.9 797.2,402.8 798.2,401.8 799.2,402.5 800.2,403.1 801.2,402.5 802.2,402.4 803.2,402.2 804.2,404.0 805.2,402.2 806.2,401.5 807.2,402.1 808.2,402.2 809.2,402.3 810.2,402.1 811.2,401.5 812.2,402.1 813.2,402.5 814.2,401.1 815.2,403.5 816.2,403.3 817.2,400.7 818.2,401.7 819.2,402.6 820.2,402.8 821.2,403.1 822.2,400.5 823.2,396.4 824.2,401.4 825.2,402.1 826.2,400.9 827.2,401.9 828.2,401.9 829.2,402.1 830.2,400.6 831.2,401.6 832.2,401.5 833.2,401.1 834.2,402.3 835.2,401.1 836.2,402.3 837.2,400.9 838.2,402.5 839.2,402.4 840.2,400.6 841.2,401.4 842.2,401.4 843.2,400.4 844.2,401.6 845.2,401.5 846.2,400.4 847.2,401.0 848.2,401.6 849.2,400.8 850.2,400.4 851.2,402.0 852.2,400.1 853.2,401.0 854.2,401.6 855.2,401.3 856.2,399.4 857.2,400.5 858.2,400.6 859.2,400.5 860.2,401.0 861.2,401.0 862.2,400.6 863.2,400.7 864.2,401.2 865.2,401.4 866.2,399.1 867.2,402.0 868.2,400.0 869.2,400.9 870.2,399.2 871.2,399.9 872.2,399.4 873.2,401.0 874.2,400.9 875.2,400.2 876.2,400.1 877.2,400.4 878.2,399.5" stroke="#0c9642" stroke-width="3.6"/>
<polyline points="233.5,619.4 233.8,618.2 234.1,618.2 234.4,617.9 234.7,615.5 235.1,615.8 235.4,614.1 235.7,612.6 236.0,612.5 236.3,611.6 236.6,610.5 237.0,609.3 237.3,609.2 237.6,607.4 237.9,606.8 238.3,605.9 238.6,604.3 238.9,602.9 239.3,602.0 239.6,601.7 239.9,601.1 240.3,599.1 240.6,598.7 240.9,598.8 241.3,596.3 241.6,598.1 242.0,595.4 242.3,594.7 242.6,592.7 243.0,592.6 243.3,589.7 243.7,591.2 244.0,589.2 244.4,588.8 244.8,587.4 245.1,586.9 245.5,585.2 245.8,585.1 246.2,584.3 246.6,583.1 246.9,582.9 247.3,581.4 247.6,580.6 248.0,579.6 248.4,579.3 248.8,577.2 249.1,576.4 249.5,575.5 249.9,575.0 250.3,573.9 250.6,573.2 251.0,572.1 251.4,570.8 251.8,570.1 252.2,569.4 252.6,567.2 253.0,568.0 253.4,566.2 253.7,565.3 254.1,564.7 254.5,563.5 254.9,562.1 255.3,561.7 255.7,561.6 256.1,560.5 256.6,559.7 257.0,557.9 257.4,557.2 257.8,556.8 258.2,556.1 258.6,554.6 259.0,556.8 259.5,551.8 259.9,552.5 260.3,550.2 260.7,550.2 261.1,549.5 261.6,549.7 262.0,547.4 262.4,546.4 262.9,545.7 263.3,544.8 263.8,544.3 264.2,543.1 264.6,541.6 265.1,540.1 265.5,540.3 266.0,538.9 266.4,539.0 266.9,536.9 267.3,536.7 267.8,535.3 268.3,534.4 268.7,534.7 269.2,533.1 269.7,532.1 270.1,531.6 270.6,530.0 271.1,529.3 271.5,528.3 272.0,528.7 272.5,527.0 273.0,526.3 273.5,525.6 274.0,524.2 274.5,523.3 274.9,521.7 275.4,521.8 275.9,520.9 276.4,519.7 276.9,519.6 277.4,517.3 277.9,517.5 278.5,515.8 279.0,515.0 279.5,514.6 280.0,514.5 280.5,512.5 281.0,512.2 281.6,510.7 282.1,511.4 282.6,509.8 283.1,508.9 283.7,508.9 284.2,507.2 284.7,505.2 285.3,505.1 285.8,504.0 286.4,504.6 286.9,502.2 287.5,502.2 288.0,501.0 288.6,500.2 289.1,499.5 289.7,498.6 290.3,497.6 290.8,496.5 291.4,495.9 292.0,494.9 292.5,494.2 293.1,493.8 293.7,492.9 294.3,492.4 294.9,491.2 295.4,491.4 296.0,489.4 296.6,488.4 297.2,488.6 297.8,487.0 298.4,486.6 299.0,486.2 299.6,484.9 300.2,483.9 300.8,483.8 301.5,482.7 302.1,481.5 302.7,480.4 303.3,480.0 303.9,478.6 304.6,478.2 305.2,477.3 305.8,477.2 306.5,476.6 307.1,475.2 307.7,474.5 308.4,473.5 309.0,472.6 309.7,472.3 310.3,472.0 311.0,471.2 311.6,470.5 312.3,469.3 313.0,467.4 313.6,468.4 314.3,467.8 315.0,466.9 315.6,466.1 316.3,465.5 317.0,465.5 317.7,463.7 318.4,463.5 319.1,462.4 319.7,461.7 320.4,460.6 321.1,459.7 321.8,458.7 322.5,458.7 323.2,457.6 323.9,456.5 324.6,456.0 325.4,455.1 326.1,455.7 326.8,454.1 327.5,453.6 328.2,452.3 328.9,451.7 329.7,452.0 330.4,450.7 331.1,450.2 331.9,450.3 332.6,449.7 333.3,448.4 334.1,447.6 334.8,446.8 335.6,445.9 336.3,444.6 337.1,444.2 337.8,444.0 338.6,442.5 339.3,442.2 340.1,442.3 340.9,441.7 341.6,441.0 342.4,440.1 343.2,439.2 343.9,438.7 344.7,438.1 345.5,438.2 346.3,437.7 347.1,436.6 347.8,435.6 348.6,434.7 349.4,434.7 350.2,433.9 351.0,432.5 351.8,433.4 352.6,432.1 353.4,431.4 354.2,430.5 355.0,429.9 355.8,430.2 356.6,428.7 357.4,428.6 358.2,428.3 359.0,428.3 359.9,427.1 360.7,426.2 361.5,425.5 362.3,425.5 363.1,425.0 364.0,423.8 364.8,423.7 365.6,422.8 366.5,421.6 367.3,421.3 368.1,421.6 369.0,421.3 369.8,420.4 370.6,419.5 371.5,418.7 372.3,418.8 373.2,418.1 374.0,416.7 374.9,417.2 375.7,416.1 376.6,416.2 377.4,415.6 378.3,415.2 379.1,414.8 380.0,414.1 380.9,412.8 381.7,412.3 382.6,412.8 383.5,412.0 384.3,410.6 385.2,409.9 386.1,410.7 386.9,410.9 387.8,409.7 388.7,408.7 389.6,408.5 390.4,406.6 391.3,406.9 392.2,407.4 393.1,406.9 394.0,401.3 394.8,406.1 395.7,405.3 396.6,405.0 397.5,404.0 398.4,401.3 399.3,402.7 400.2,402.9 401.1,402.7 402.0,401.4 402.9,401.6 403.8,400.7 404.7,401.0 405.6,400.6 406.5,398.6 407.4,399.5 408.3,399.3 409.2,398.1 410.1,397.9 411.0,397.5 411.9,396.6 412.8,396.6 413.7,397.0 414.6,396.1 415.5,396.2 416.4,395.5 417.4,395.2 418.3,394.3 419.2,394.2 420.1,394.4 421.0,393.7 421.9,392.8 422.8,391.9 423.8,391.4 424.7,391.6 425.6,391.3 426.5,389.8 427.5,390.4 428.4,390.1 429.3,389.7 430.2,388.9 431.2,389.9 432.1,388.8 433.0,387.4 433.9,387.3 434.9,387.7 435.8,387.2 436.7,386.6 437.7,386.2 438.6,385.7 439.5,385.3 440.5,383.4 441.4,385.0 442.3,383.1 443.3,383.7 444.2,384.3 445.2,383.0 446.1,382.5 447.0,383.6 448.0,382.8 448.9,381.9 449.9,381.4 450.8,381.2 451.7,380.8 452.7,380.5 453.6,380.0 454.6,380.2 455.5,379.4 456.5,378.5 457.4,378.4 458.4,378.7 459.3,377.9 460.2,376.9 461.2,378.4 462.1,377.7 463.1,376.9 464.0,376.5 465.0,376.7 465.9,376.8 466.9,375.6 467.9,375.8 468.8,375.0 469.8,375.1 470.7,374.1 471.7,373.5 472.6,374.1 473.6,373.7 474.5,372.0 475.5,372.9 476.4,373.5 477.4,372.6 478.4,373.0 479.3,371.9 480.3,372.4 481.2,371.4 482.2,371.2 483.2,371.3 484.1,369.8 485.1,369.8 486.0,370.9 487.0,369.1 488.0,369.3 488.9,369.5 489.9,372.0 490.8,368.4 491.8,368.5 492.8,367.6 493.7,367.7 494.7,368.1 495.7,367.4 496.6,367.1 497.6,367.0 498.6,366.6 499.5,366.4 500.5,365.9 501.5,365.4 502.4,365.9 503.4,364.8 504.4,365.5 505.3,365.8 506.3,365.3 507.3,365.4 508.2,363.6 509.2,363.9 510.2,363.2 511.1,363.0 512.1,362.3 513.1,362.3 514.1,363.0 515.0,362.7 516.0,362.7 517.0,362.4 517.9,362.0 518.9,361.1 519.9,361.2 520.9,361.3 521.8,361.3 522.8,360.3 523.8,360.1 524.8,359.9 525.7,360.6 526.7,359.9 527.7,359.3 528.7,358.8 529.6,359.2 530.6,358.0 531.6,358.4 532.6,355.3 533.5,357.8 534.5,358.0 535.5,357.9 536.5,358.9 537.4,357.3 538.4,357.3 539.4,356.4 540.4,355.8 541.4,356.9 542.3,357.1 543.3,355.5 544.3,355.8 545.3,356.1 546.2,355.4 547.2,354.1 548.2,355.4 549.2,354.7 550.2,354.9 551.1,353.9 552.1,354.6 553.1,354.5 554.1,353.5 555.1,353.8 556.1,353.1 557.0,353.0 558.0,352.6 559.0,352.6 560.0,352.3 561.0,353.0 561.9,352.2 562.9,351.6 563.9,352.5 564.9,352.0 565.9,352.0 566.9,351.3 567.8,351.5 568.8,350.9 569.8,350.4 570.8,350.7 571.8,350.5 572.8,350.3 573.7,350.5 574.7,351.8 575.7,349.9 576.7,349.2 577.7,349.3 578.7,349.4 579.6,349.1 580.6,348.6 581.6,349.0 582.6,348.5 583.6,348.8 584.6,348.8 585.6,347.9 586.5,347.9 587.5,347.7 588.5,347.9 589.5,347.5 590.5,346.7 591.5,346.3 592.5,346.5 593.5,346.3 594.4,346.9 595.4,346.4 596.4,346.7 597.4,346.1 598.4,346.7 599.4,345.8 600.4,345.9 601.4,345.3 602.3,345.5 603.3,345.7 604.3,345.4 605.3,345.4 606.3,344.4 607.3,344.8 608.3,345.2 609.3,344.4 610.3,344.0 611.2,343.9 612.2,343.6 613.2,343.7 614.2,344.2 615.2,343.6 616.2,343.2 617.2,342.7 618.2,342.4 619.2,343.9 620.1,342.5 621.1,342.6 622.1,342.2 623.1,342.3 624.1,341.9 625.1,342.0 626.1,342.5 627.1,341.4 628.1,341.8 629.1,341.4 630.1,341.6 631.0,340.8 632.0,341.2 633.0,340.4 634.0,339.9 635.0,340.0 636.0,340.1 637.0,339.8 638.0,340.1 639.0,340.6 640.0,339.4 641.0,340.0 642.0,339.8 642.9,339.3 643.9,339.0 644.9,339.5 645.9,339.4 646.9,338.9 647.9,338.9 648.9,338.8 649.9,338.1 650.9,338.6 651.9,338.6 652.9,339.2 653.9,337.7 654.9,337.7 655.8,338.0 656.8,337.6 657.8,337.6 658.8,337.6 659.8,337.4 660.8,337.4 661.8,337.5 662.8,336.4 663.8,337.3 664.8,335.9 665.8,337.6 666.8,337.2 667.8,336.3 668.8,337.0 669.8,336.3 670.7,336.5 671.7,336.5 672.7,336.2 673.7,336.0 674.7,336.1 675.7,335.7 676.7,335.5 677.7,335.1 678.7,334.6 679.7,336.1 680.7,335.6 681.7,334.5 682.7,335.2 683.7,335.0 684.7,333.8 685.7,334.3 686.7,334.6 687.7,335.3 688.7,334.9 689.6,334.9 690.6,334.4 691.6,334.6 692.6,333.5 693.6,334.2 694.6,334.2 695.6,333.2 696.6,333.8 697.6,334.2 698.6,334.3 699.6,334.0 700.6,332.9 701.6,333.1 702.6,332.8 703.6,333.5 704.6,332.5 705.6,332.3 706.6,332.0 707.6,332.7 708.6,332.7 709.6,332.2 710.6,332.0 711.5,332.2 712.5,334.6 713.5,331.5 714.5,332.0 715.5,332.0 716.5,332.0 717.5,332.3 718.5,332.0 719.5,331.7 720.5,332.1 721.5,331.9 722.5,331.4 723.5,331.3 724.5,330.6 725.5,331.1 726.5,330.6 727.5,330.4 728.5,330.7 729.5,330.0 730.5,330.0 731.5,330.3 732.5,330.7 733.5,330.3 734.5,330.5 735.5,331.0 736.5,330.6 737.5,329.6 738.5,329.2 739.5,329.5 740.4,329.5 741.4,328.9 742.4,328.9 743.4,328.9 744.4,329.3 745.4,330.1 746.4,330.2 747.4,328.9 748.4,329.1 749.4,328.6 750.4,328.4 751.4,329.0 752.4,329.0 753.4,328.6 754.4,329.1 755.4,328.6 756.4,329.2 757.4,328.4 758.4,328.9 759.4,328.4 760.4,328.4 761.4,328.6 762.4,327.7 763.4,327.9 764.4,328.1 765.4,327.9 766.4,328.1 767.4,327.6 768.4,327.3 769.4,327.7 770.4,327.9 771.4,327.3 772.4,328.1 773.4,327.9 774.4,327.9 775.4,327.8 776.4,327.0 777.4,328.3 778.4,326.9 779.4,327.4 780.4,327.5 781.4,327.2 782.4,327.1 783.4,326.6 784.4,326.7 785.3,326.9 786.3,327.4 787.3,326.4 788.3,327.0 789.3,326.8 790.3,326.6 791.3,326.3 792.3,326.4 793.3,325.6 794.3,326.4 795.3,326.5 796.3,326.0 797.3,326.4 798.3,326.3 799.3,325.8 800.3,326.4 801.3,325.8 802.3,327.0 803.3,325.4 804.3,325.5 805.3,325.5 806.3,325.9 807.3,326.2 808.3,325.7 809.3,325.4 810.3,326.4 811.3,327.4 812.3,325.3 813.3,325.3 814.3,324.7 815.3,325.3 816.3,326.0 817.3,324.7 818.3,324.5 819.3,325.2 820.3,324.0 821.3,325.6 822.3,324.3 823.3,324.6 824.3,324.8 825.3,325.4 826.3,325.0 827.3,323.9 828.3,323.9 829.3,324.7 830.3,323.6 831.3,324.4 832.3,324.1 833.3,324.8 834.3,325.0 835.3,323.8 836.3,324.5 837.3,324.6 838.3,323.9 839.3,323.9 840.3,323.6 841.3,324.0 842.3,324.3 843.3,324.6 844.3,324.6 845.3,323.8 846.3,323.5 847.3,324.3 848.3,322.6 849.3,323.2 850.3,324.0 851.3,324.7 852.3,323.3 853.3,323.7 854.3,323.1 855.3,323.5 856.3,323.5 857.3,323.2 858.3,323.6 859.3,323.4 860.3,323.6 861.3,323.3 862.3,322.8 863.3,323.4 864.3,323.7 865.3,322.9 866.3,323.8 867.3,323.4 868.3,323.0 869.3,323.1 870.3,322.9 871.3,322.6 872.3,323.4 873.3,323.4 874.3,322.8 875.3,322.9 876.3,322.8 877.3,323.2 878.3,323.5 879.3,322.5 880.3,322.9 881.3,322.7" stroke="#f1802a" stroke-width="3.3"/>
<polyline points="226.2,619.5 226.5,618.5 226.7,616.5 227.0,615.7 227.2,614.6 227.5,614.4 227.7,612.9 227.9,612.9 228.2,611.6 228.4,610.4 228.7,609.4 228.9,608.6 229.2,607.8 229.4,606.4 229.7,605.6 229.9,604.9 230.2,603.5 230.4,603.0 230.7,601.5 230.9,600.3 231.2,599.8 231.5,599.4 231.7,598.4 232.0,596.0 232.2,595.9 232.5,594.6 232.8,593.7 233.0,592.8 233.3,591.8 233.6,590.7 233.8,589.9 234.1,589.1 234.4,584.7 234.6,586.6 234.9,585.7 235.2,584.7 235.4,584.5 235.7,582.8 236.0,582.0 236.3,581.4 236.5,580.7 236.8,579.4 237.1,578.9 237.4,577.5 237.7,576.7 237.9,575.9 238.2,574.0 238.5,573.8 238.8,573.4 239.1,571.8 239.4,570.7 239.6,570.7 239.9,568.9 240.2,568.5 240.5,565.9 240.8,566.1 241.1,564.8 241.4,564.3 241.7,563.7 242.0,562.1 242.3,561.1 242.6,559.0 242.9,559.7 243.2,559.0 243.5,557.5 243.8,556.3 244.1,555.7 244.4,555.0 244.7,553.9 245.0,553.6 245.4,551.5 245.7,550.1 246.0,550.0 246.3,549.4 246.6,547.7 246.9,547.0 247.3,545.7 247.6,544.5 247.9,546.6 248.2,542.2 248.5,542.4 248.9,541.5 249.2,540.7 249.5,539.0 249.9,538.2 250.2,536.8 250.5,535.9 250.8,536.0 251.2,535.9 251.5,533.3 251.9,532.6 252.2,532.3 252.5,530.6 252.9,530.2 253.2,528.9 253.6,528.0 253.9,527.6 254.3,526.1 254.6,524.7 255.0,524.7 255.3,523.4 255.7,522.2 256.0,521.2 256.4,520.9 256.8,519.4 257.1,518.8 257.5,518.3 257.8,516.8 258.2,516.4 258.6,514.4 258.9,514.4 259.3,513.4 259.7,513.1 260.1,511.3 260.4,510.8 260.8,509.4 261.2,508.1 261.6,507.2 262.0,506.4 262.3,506.1 262.7,504.5 263.1,503.9 263.5,503.4 263.9,499.4 264.3,501.6 264.7,500.9 265.1,498.8 265.5,498.2 265.9,497.6 266.3,497.1 266.7,495.9 267.1,494.4 267.5,493.7 267.9,492.2 268.3,492.4 268.7,490.3 269.2,490.3 269.6,489.8 270.0,488.8 270.4,486.7 270.8,486.7 271.3,485.5 271.7,484.6 272.1,484.6 272.6,483.1 273.0,481.4 273.4,480.7 273.9,480.6 274.3,479.4 274.7,477.9 275.2,476.8 275.6,476.4 276.1,475.6 276.5,475.2 277.0,473.7 277.4,473.4 277.9,472.7 278.4,470.6 278.8,470.2 279.3,470.2 279.7,468.4 280.2,467.8 280.7,467.3 281.2,465.7 281.6,464.9 282.1,463.5 282.6,463.6 283.1,462.3 283.5,461.4 284.0,459.6 284.5,460.3 285.0,459.3 285.5,457.8 286.0,457.8 286.5,455.3 287.0,455.5 287.5,454.9 288.0,455.0 288.5,451.7 289.0,451.5 289.5,450.8 290.0,450.7 290.6,449.8 291.1,448.8 291.6,447.6 292.1,447.9 292.6,445.7 293.2,445.4 293.7,445.2 294.2,443.0 294.8,442.3 295.3,442.3 295.9,441.2 296.4,439.6 297.0,439.3 297.5,439.3 298.1,437.5 298.6,437.2 299.2,434.3 299.7,434.8 300.3,435.0 300.8,433.9 301.4,433.2 302.0,431.8 302.6,431.1 303.1,430.3 303.7,429.6 304.3,428.4 304.9,427.5 305.5,427.5 306.0,425.6 306.6,425.1 307.2,424.4 307.8,423.5 308.4,422.4 309.0,421.8 309.6,421.7 310.2,420.4 310.9,419.4 311.5,419.7 312.1,417.6 312.7,417.9 313.3,416.8 313.9,415.2 314.6,414.9 315.2,414.1 315.8,414.1 316.5,413.1 317.1,412.6 317.7,410.6 318.4,409.6 319.0,409.6 319.7,408.2 320.3,408.0 321.0,407.3 321.6,406.8 322.3,406.3 323.0,405.2 323.6,404.6 324.3,403.5 325.0,403.3 325.6,402.5 326.3,402.1 327.0,401.3 327.7,399.6 328.3,398.5 329.0,398.8 329.7,398.3 330.4,396.7 331.1,397.0 331.8,395.6 332.5,394.8 333.2,394.3 333.9,392.8 334.6,392.0 335.3,391.9 336.0,390.8 336.7,390.6 337.5,389.9 338.2,388.1 338.9,388.2 339.6,388.1 340.4,386.1 341.1,386.3 341.8,385.2 342.6,384.2 343.3,384.9 344.0,384.2 344.8,382.9 345.5,382.2 346.3,382.4 347.0,381.6 347.8,380.4 348.5,380.2 349.3,379.2 350.0,378.3 350.8,378.1 351.6,377.0 352.3,376.8 353.1,375.8 353.9,375.1 354.6,374.4 355.4,374.2 356.2,373.8 357.0,372.9 357.8,371.7 358.5,371.8 359.3,370.5 360.1,369.8 360.9,369.6 361.7,369.4 362.5,368.8 363.3,368.1 364.1,367.9 364.9,367.0 365.7,365.9 366.5,365.8 367.3,364.8 368.1,364.5 369.0,364.0 369.8,363.1 370.6,361.9 371.4,361.9 372.2,361.3 373.0,360.8 373.9,360.1 374.7,359.2 375.5,358.4 376.4,358.9 377.2,358.4 378.0,357.7 378.9,356.9 379.7,357.3 380.5,356.2 381.4,355.3 382.2,355.2 383.1,354.2 383.9,354.0 384.8,353.3 385.6,352.9 386.5,352.2 387.3,351.4 388.2,351.3 389.0,351.1 389.9,349.7 390.7,349.3 391.6,345.8 392.5,349.0 393.3,348.0 394.2,348.0 395.1,346.7 395.9,346.9 396.8,345.8 397.7,345.4 398.6,345.4 399.4,344.5 400.3,343.9 401.2,344.1 402.1,343.2 402.9,343.3 403.8,343.4 404.7,341.5 405.6,341.2 406.5,340.2 407.4,339.9 408.3,340.2 409.1,339.6 410.0,339.2 410.9,338.8 411.8,337.8 412.7,336.9 413.6,337.7 414.5,336.9 415.4,336.9 416.3,335.9 417.2,335.8 418.1,334.8 419.0,334.6 419.9,334.1 420.8,334.0 421.7,334.0 422.6,333.2 423.6,331.2 424.5,332.1 425.4,331.7 426.3,331.6 427.2,330.9 428.1,330.2 429.0,329.7 429.9,329.5 430.9,329.0 431.8,329.5 432.7,328.8 433.6,328.1 434.5,328.1 435.5,328.3 436.4,326.8 437.3,326.5 438.2,326.0 439.2,325.2 440.1,325.1 441.0,324.6 441.9,324.9 442.9,324.5 443.8,324.3 444.7,323.2 445.7,323.6 446.6,322.4 447.5,322.4 448.5,322.7 449.4,322.3 450.3,321.9 451.3,322.0 452.2,321.2 453.1,320.2 454.1,319.9 455.0,319.3 455.9,319.4 456.9,318.6 457.8,318.4 458.8,317.9 459.7,317.2 460.7,318.7 461.6,317.7 462.5,316.0 463.5,316.8 464.4,316.1 465.4,315.0 466.3,315.6 467.3,315.4 468.2,315.3 469.2,315.2 470.1,314.0 471.1,314.1 472.0,314.1 473.0,313.7 473.9,313.3 474.9,312.9 475.8,313.1 476.8,311.7 477.7,311.3 478.7,312.4 479.6,311.5 480.6,311.5 481.5,310.8 482.5,310.3 483.5,309.9 484.4,309.9 485.4,309.4 486.3,309.3 487.3,309.0 488.2,309.1 489.2,308.8 490.2,308.9 491.1,307.6 492.1,307.6 493.0,307.8 494.0,307.2 495.0,305.7 495.9,306.7 496.9,306.2 497.9,305.8 498.8,305.5 499.8,305.1 500.8,305.7 501.7,305.2 502.7,304.8 503.6,304.9 504.6,304.6 505.6,303.5 506.5,303.2 507.5,302.9 508.5,303.5 509.4,302.9 510.4,303.2 511.4,302.6 512.4,302.0 513.3,301.3 514.3,301.5 515.3,302.4 516.2,300.9 517.2,300.6 518.2,300.6 519.1,301.0 520.1,300.2 521.1,299.5 522.1,299.5 523.0,299.4 524.0,299.3 525.0,299.5 526.0,299.9 526.9,299.2 527.9,298.6 528.9,298.1 529.8,297.6 530.8,297.9 531.8,298.0 532.8,297.6 533.8,297.0 534.7,297.1 535.7,296.5 536.7,296.3 537.7,296.1 538.6,296.0 539.6,295.7 540.6,296.0 541.6,295.3 542.5,295.1 543.5,295.3 544.5,295.0 545.5,294.4 546.5,293.9 547.4,294.6 548.4,293.9 549.4,293.2 550.4,293.4 551.4,292.7 552.3,292.6 553.3,292.7 554.3,293.1 555.3,291.9 556.3,292.4 557.2,292.0 558.2,294.1 559.2,291.8 560.2,291.8 561.2,291.9 562.1,290.6 563.1,290.8 564.1,290.1 565.1,290.2 566.1,290.5 567.1,290.1 568.0,290.2 569.0,289.7 570.0,289.4 571.0,289.4 572.0,288.9 573.0,288.6 574.0,288.2 574.9,288.7 575.9,288.8 576.9,287.9 577.9,288.0 578.9,287.1 579.9,287.4 580.8,287.7 581.8,287.0 582.8,287.6 583.8,287.0 584.8,287.2 585.8,286.6 586.8,286.1 587.7,286.5 588.7,286.7 589.7,286.0 590.7,286.2 591.7,285.6 592.7,285.6 593.7,286.1 594.7,285.4 595.6,284.9 596.6,285.4 597.6,285.0 598.6,284.6 599.6,285.0 600.6,283.2 601.6,284.6 602.6,285.0 603.6,284.2 604.5,283.1 605.5,284.4 606.5,284.7 607.5,283.7 608.5,282.9 609.5,282.9 610.5,283.0 611.5,283.0 612.5,283.3 613.4,282.9 614.4,281.5 615.4,282.2 616.4,282.1 617.4,282.9 618.4,281.7 619.4,281.2 620.4,281.5 621.4,281.6 622.4,280.6 623.4,281.7 624.3,281.1 625.3,281.3 626.3,281.2 627.3,281.0 628.3,281.2 629.3,281.2 630.3,280.2 631.3,280.2 632.3,280.5 633.3,280.0 634.3,279.6 635.3,278.3 636.2,279.2 637.2,279.2 638.2,277.8 639.2,279.3 640.2,279.9 641.2,279.3 642.2,279.2 643.2,278.8 644.2,278.3 645.2,278.7 646.2,278.4 647.2,278.2 648.2,278.3 649.2,277.8 650.1,278.0 651.1,278.1 652.1,278.1 653.1,277.6 654.1,277.8 655.1,279.4 656.1,276.2 657.1,276.3 658.1,276.9 659.1,276.4 660.1,277.0 661.1,276.1 662.1,276.4 663.1,276.2 664.1,276.0 665.1,276.0 666.0,276.1 667.0,276.1 668.0,275.7 669.0,275.9 670.0,276.0 671.0,275.6 672.0,275.2 673.0,275.1 674.0,275.1 675.0,275.0 676.0,275.2 677.0,276.2 678.0,275.4 679.0,274.9 680.0,275.0 681.0,274.9 682.0,275.1 683.0,275.1 684.0,273.9 685.0,275.3 686.0,273.8 686.9,274.1 687.9,273.6 688.9,273.2 689.9,273.0 690.9,274.6 691.9,274.3 692.9,273.1 693.9,273.0 694.9,274.0 695.9,272.9 696.9,273.4 697.9,274.0 698.9,273.3 699.9,273.6 700.9,272.9 701.9,272.0 702.9,272.3 703.9,271.8 704.9,272.6 705.9,271.8 706.9,272.4 707.9,272.0 708.9,271.9 709.9,272.3 710.9,271.8 711.9,271.5 712.8,272.3 713.8,271.7 714.8,271.0 715.8,272.1 716.8,270.9 717.8,271.5 718.8,271.6 719.8,271.2 720.8,270.8 721.8,271.0 722.8,270.9 723.8,270.5 724.8,271.3 725.8,270.6 726.8,270.4 727.8,271.3 728.8,270.3 729.8,269.8 730.8,270.4 731.8,270.4 732.8,270.3 733.8,271.2 734.8,269.9 735.8,270.7 736.8,270.9 737.8,270.6 738.8,269.8 739.8,269.7 740.8,269.7 741.8,269.8 742.8,270.0 743.8,270.3 744.8,268.7 745.8,269.9 746.8,269.5 747.8,269.3 748.8,268.8 749.8,269.3 750.7,268.3 751.7,269.5 752.7,268.6 753.7,268.9 754.7,268.8 755.7,269.0 756.7,268.1 757.7,269.0 758.7,268.8 759.7,269.2 760.7,268.6 761.7,268.4 762.7,267.5 763.7,268.1 764.7,269.0 765.7,268.0 766.7,267.9 767.7,268.0 768.7,268.4 769.7,267.2 770.7,268.7 771.7,268.1 772.7,268.1 773.7,267.7 774.7,268.5 775.7,267.4 776.7,267.9 777.7,267.6 778.7,266.9 779.7,267.3 780.7,267.7 781.7,267.2 782.7,267.1 783.7,267.2 784.7,266.7 785.7,266.6 786.7,267.1 787.7,266.6 788.7,267.2 789.7,267.2 790.7,267.4 791.7,267.2 792.7,266.6 793.7,266.9 794.7,266.1 795.7,266.8 796.7,266.3 797.7,267.1 798.7,266.1 799.7,266.5 800.7,266.0 801.7,266.6 802.7,266.5 803.7,265.8 804.7,267.0 805.7,266.3 806.7,265.4 807.7,265.6 808.7,265.2 809.7,265.1 810.7,265.8 811.7,264.9 812.7,266.0 813.7,265.0 814.7,265.6 815.7,266.4 816.7,265.5 817.7,265.6 818.7,266.1 819.7,263.8 820.7,265.7 821.7,260.8 822.7,265.2 823.7,265.4 824.7,265.3 825.6,264.9 826.6,265.3 827.6,265.5 828.6,265.4 829.6,265.1 830.6,264.7 831.6,265.3 832.6,265.4 833.6,264.5 834.6,263.9 835.6,264.8 836.6,265.3 837.6,265.2 838.6,264.3 839.6,265.3 840.6,264.3 841.6,265.1 842.6,264.5 843.6,261.6 844.6,264.8 845.6,264.4 846.6,264.8 847.6,264.2 848.6,264.3 849.6,264.3 850.6,264.0 851.6,264.7 852.6,264.7 853.6,264.3 854.6,263.8 855.6,264.4 856.6,264.3 857.6,262.3 858.6,264.1 859.6,264.0 860.6,264.7 861.6,263.8 862.6,263.9 863.6,263.5 864.6,263.8 865.6,263.7 866.6,263.7 867.6,264.1 868.6,263.5 869.6,264.0 870.6,263.6 871.6,263.5 872.6,262.9 873.6,263.9 874.6,263.9 875.6,263.2 876.6,263.3 877.6,262.8 878.6,263.4 879.6,263.0 880.6,263.6 881.6,263.4" stroke="#4a2b8e" stroke-width="3.2"/>
<polyline points="213.8,620.1 214.0,620.0 214.2,617.5 214.4,617.7 214.6,615.1 214.8,614.8 215.0,613.6 215.3,612.3 215.5,612.1 215.7,612.1 215.9,611.2 216.1,609.4 216.3,607.3 216.6,606.6 216.8,606.4 217.0,605.4 217.2,604.4 217.5,603.0 217.7,601.6 217.9,601.5 218.1,600.2 218.4,600.1 218.6,597.8 218.8,597.8 219.0,597.1 219.3,596.5 219.5,595.5 219.7,592.8 220.0,591.7 220.2,591.5 220.4,590.0 220.6,588.1 220.9,589.4 221.1,587.9 221.4,587.2 221.6,585.7 221.8,585.4 222.1,583.8 222.3,582.8 222.5,582.9 222.8,580.1 223.0,580.1 223.3,577.9 223.5,578.8 223.7,576.8 224.0,575.2 224.2,573.9 224.5,573.8 224.7,574.2 225.0,572.3 225.2,570.1 225.5,568.9 225.7,570.8 226.0,567.8 226.2,566.3 226.5,566.3 226.7,565.6 227.0,565.2 227.2,563.2 227.5,561.9 227.7,561.8 228.0,559.9 228.2,559.7 228.5,558.6 228.8,558.1 229.0,556.1 229.3,555.2 229.5,554.8 229.8,553.9 230.1,551.8 230.3,550.0 230.6,550.9 230.9,549.6 231.1,550.2 231.4,548.3 231.7,547.7 231.9,545.9 232.2,545.0 232.5,544.1 232.8,543.7 233.0,541.9 233.3,542.1 233.6,539.7 233.9,539.8 234.1,538.4 234.4,537.1 234.7,537.3 235.0,536.0 235.3,534.3 235.5,533.0 235.8,533.0 236.1,531.1 236.4,530.9 236.7,529.1 237.0,528.7 237.3,527.2 237.6,526.6 237.9,527.3 238.1,525.9 238.4,523.6 238.7,522.8 239.0,521.0 239.3,521.2 239.6,520.7 239.9,518.6 240.2,517.6 240.5,517.4 240.8,515.9 241.1,515.4 241.4,515.3 241.8,513.7 242.1,512.9 242.4,512.6 242.7,510.7 243.0,510.0 243.3,508.7 243.6,507.2 243.9,507.7 244.3,505.0 244.6,504.9 244.9,503.2 245.2,502.5 245.5,501.2 245.9,500.9 246.2,500.4 246.5,500.0 246.8,497.1 247.2,497.4 247.5,496.1 247.8,495.0 248.1,494.4 248.5,493.6 248.8,492.5 249.1,491.6 249.5,492.0 249.8,489.8 250.2,489.0 250.5,487.2 250.8,487.6 251.2,485.7 251.5,485.0 251.9,483.6 252.2,483.1 252.6,481.7 252.9,480.5 253.3,479.5 253.6,479.2 254.0,478.5 254.3,478.0 254.7,477.6 255.0,476.8 255.4,474.4 255.8,473.4 256.1,473.3 256.5,471.4 256.9,471.7 257.2,470.7 257.6,468.6 258.0,468.7 258.3,468.2 258.7,466.7 259.1,465.3 259.5,464.4 259.8,463.9 260.2,462.3 260.6,462.0 261.0,460.7 261.4,459.5 261.8,458.4 262.1,458.4 262.5,456.6 262.9,456.4 263.3,454.2 263.7,454.3 264.1,453.6 264.5,452.8 264.9,452.2 265.3,451.1 265.7,450.2 266.1,448.7 266.5,447.4 266.9,446.4 267.3,445.7 267.7,445.4 268.2,445.0 268.6,443.6 269.0,442.7 269.4,442.1 269.8,440.5 270.3,439.9 270.7,438.8 271.1,438.1 271.5,437.0 272.0,435.4 272.4,435.1 272.8,433.9 273.3,434.5 273.7,433.4 274.1,431.3 274.6,430.3 275.0,429.9 275.5,428.1 275.9,428.8 276.4,427.2 276.8,426.0 277.3,426.0 277.7,425.3 278.2,423.7 278.6,423.3 279.1,420.9 279.5,420.5 280.0,419.6 280.5,418.2 280.9,418.8 281.4,418.8 281.9,415.8 282.4,415.3 282.8,415.4 283.3,413.7 283.8,413.0 284.3,411.7 284.8,411.5 285.2,409.8 285.7,410.0 286.2,409.0 286.7,408.0 287.2,406.5 287.7,405.9 288.2,405.4 288.7,403.8 289.2,402.9 289.7,401.2 290.2,401.4 290.7,400.8 291.3,400.6 291.8,398.4 292.3,397.4 292.8,398.1 293.3,397.2 293.8,395.0 294.4,394.6 294.9,392.9 295.4,393.1 296.0,393.1 296.5,392.0 297.0,390.0 297.6,390.0 298.1,388.5 298.7,388.3 299.2,387.0 299.8,386.8 300.3,386.4 300.9,385.0 301.4,384.2 302.0,383.4 302.5,382.8 303.1,381.2 303.7,380.5 304.2,379.7 304.8,379.8 305.4,378.3 306.0,377.7 306.5,376.3 307.1,374.9 307.7,374.7 308.3,374.4 308.9,373.1 309.5,372.2 310.0,371.5 310.6,371.2 311.2,370.3 311.8,369.3 312.4,367.9 313.0,367.3 313.6,369.0 314.3,366.0 314.9,365.7 315.5,364.7 316.1,362.9 316.7,363.7 317.3,362.2 318.0,355.0 318.6,361.0 319.2,359.5 319.8,359.2 320.5,357.5 321.1,357.4 321.7,357.1 322.4,355.7 323.0,354.4 323.7,353.9 324.3,354.1 325.0,352.0 325.6,351.3 326.3,351.8 326.9,350.7 327.6,349.8 328.3,348.9 328.9,348.6 329.6,348.1 330.3,347.2 330.9,345.1 331.6,345.8 332.3,341.4 333.0,345.0 333.6,342.9 334.3,342.8 335.0,342.6 335.7,340.7 336.4,341.0 337.1,339.7 337.8,340.1 338.5,338.6 339.2,337.6 339.9,338.2 340.6,336.9 341.3,335.3 342.0,334.2 342.7,335.1 343.4,334.0 344.2,333.3 344.9,331.7 345.6,330.8 346.3,329.9 347.0,330.5 347.8,329.0 348.5,328.8 349.2,326.4 350.0,326.2 350.7,325.9 351.4,324.1 352.2,324.3 352.9,324.6 353.7,324.6 354.4,321.4 355.2,321.5 355.9,321.8 356.7,320.1 357.4,320.1 358.2,319.1 359.0,318.5 359.7,317.5 360.5,317.6 361.3,316.6 362.0,316.6 362.8,315.8 363.6,315.8 364.3,317.1 365.1,315.0 365.9,312.4 366.7,312.6 367.5,312.5 368.2,311.5 369.0,309.3 369.8,310.4 370.6,309.3 371.4,310.5 372.2,308.3 373.0,308.2 373.8,306.6 374.6,307.0 375.4,304.3 376.2,304.8 377.0,304.6 377.8,303.3 378.6,304.2 379.4,303.1 380.3,303.5 381.1,301.1 381.9,300.8 382.7,301.1 383.5,299.9 384.3,300.1 385.2,299.4 386.0,298.0 386.8,298.0 387.7,297.7 388.5,297.0 389.3,296.1 390.1,295.4 391.0,295.0 391.8,295.2 392.7,295.3 393.5,292.7 394.3,295.0 395.2,292.3 396.0,292.8 396.9,290.8 397.7,292.2 398.6,291.7 399.4,288.3 400.3,289.7 401.1,289.1 402.0,288.0 402.8,286.6 403.7,287.4 404.5,286.4 405.4,286.9 406.3,286.0 407.1,284.6 408.0,285.8 408.9,285.3 409.7,284.6 410.6,283.2 411.5,283.2 412.3,282.3 413.2,281.4 414.1,280.1 415.0,280.9 415.8,279.1 416.7,280.2 417.6,278.5 418.5,278.9 419.3,278.2 420.2,277.2 421.1,276.8 422.0,276.6 422.9,277.4 423.8,276.2 424.7,275.4 425.5,275.6 426.4,273.9 427.3,273.2 428.2,273.2 429.1,273.9 430.0,272.6 430.9,272.4 431.8,272.0 432.7,271.2 433.6,271.8 434.5,271.0 435.4,269.6 436.3,269.1 437.2,269.2 438.1,268.3 439.0,268.4 439.9,268.4 440.8,267.6 441.7,267.3 442.6,266.4 443.5,265.8 444.4,265.3 445.3,266.3 446.3,264.6 447.2,264.7 448.1,264.3 449.0,264.1 449.9,263.2 450.8,262.0 451.7,263.9 452.7,261.6 453.6,262.2 454.5,260.8 455.4,261.4 456.3,260.0 457.3,261.3 458.2,260.1 459.1,258.5 460.0,260.1 460.9,257.6 461.9,258.1 462.8,258.6 463.7,257.3 464.7,258.0 465.6,256.9 466.5,256.1 467.4,256.8 468.4,255.7 469.3,255.1 470.2,255.6 471.2,254.5 472.1,253.4 473.0,253.4 474.0,255.1 474.9,254.4 475.8,251.9 476.8,253.0 477.7,252.9 478.6,251.6 479.6,251.8 480.5,250.4 481.4,250.5 482.4,251.0 483.3,249.0 484.3,249.6 485.2,249.2 486.1,248.2 487.1,248.0 488.0,248.0 489.0,247.9 489.9,247.1 490.9,248.5 491.8,245.9 492.8,246.0 493.7,246.0 494.6,246.4 495.6,244.8 496.5,245.6 497.5,244.6 498.4,244.3 499.4,244.7 500.3,244.6 501.3,244.5 502.2,242.8 503.2,243.8 504.1,243.5 505.1,242.8 506.0,242.6 507.0,242.0 507.9,241.6 508.9,241.9 509.9,242.1 510.8,240.6 511.8,240.7 512.7,240.8 513.7,239.0 514.6,240.6 515.6,239.5 516.5,239.9 517.5,238.6 518.5,237.9 519.4,238.1 520.4,238.1 521.3,237.0 522.3,237.9 523.2,237.2 524.2,236.1 525.2,236.8 526.1,236.1 527.1,236.0 528.1,235.4 529.0,234.9 530.0,234.4 530.9,234.9 531.9,234.6 532.9,234.6 533.8,233.6 534.8,234.3 535.8,234.0 536.7,232.5 537.7,233.1 538.7,234.1 539.6,232.1 540.6,232.0 541.5,231.5 542.5,231.4 543.5,232.0 544.4,231.1 545.4,230.8 546.4,230.2 547.4,230.7 548.3,230.1 549.3,229.7 550.3,229.5 551.2,230.4 552.2,229.2 553.2,229.1 554.1,229.5 555.1,228.4 556.1,228.8 557.0,227.3 558.0,228.1 559.0,226.2 560.0,227.3 560.9,226.7 561.9,226.3 562.9,227.2 563.9,226.8 564.8,226.6 565.8,226.8 566.8,225.9 567.7,225.8 568.7,225.1 569.7,226.1 570.7,225.3 571.6,224.0 572.6,223.7 573.6,223.6 574.6,223.4 575.5,224.4 576.5,223.6 577.5,223.8 578.5,223.3 579.5,222.3 580.4,223.3 581.4,221.1 582.4,221.4 583.4,220.6 584.3,221.3 585.3,223.0 586.3,220.8 587.3,221.7 588.3,221.9 589.2,220.2 590.2,220.0 591.2,220.4 592.2,220.4 593.1,218.9 594.1,219.1 595.1,220.4 596.1,218.7 597.1,219.3 598.0,219.5 599.0,218.4 600.0,218.3 601.0,217.9 602.0,217.7 603.0,217.5 603.9,216.7 604.9,217.2 605.9,217.2 606.9,217.5 607.9,216.7 608.8,214.3 609.8,217.7 610.8,216.4 611.8,216.0 612.8,215.7 613.8,215.8 614.7,215.1 615.7,215.1 616.7,214.8 617.7,214.4 618.7,214.6 619.7,213.9 620.6,215.6 621.6,213.7 622.6,215.3 623.6,214.2 624.6,214.4 625.6,214.6 626.6,212.5 627.5,214.4 628.5,213.5 629.5,212.7 630.5,212.4 631.5,212.9 632.5,211.6 633.5,213.5 634.4,212.1 635.4,213.9 636.4,212.0 637.4,211.5 638.4,211.3 639.4,210.0 640.4,212.0 641.4,211.1 642.3,211.3 643.3,211.1 644.3,211.0 645.3,210.7 646.3,211.1 647.3,209.8 648.3,209.4 649.3,209.8 650.2,209.5 651.2,209.6 652.2,210.1 653.2,209.9 654.2,209.5 655.2,208.5 656.2,209.1 657.2,208.8 658.2,209.0 659.1,208.4 660.1,208.0 661.1,208.2 662.1,207.5 663.1,207.3 664.1,207.8 665.1,207.5 666.1,208.0 667.1,207.3 668.1,206.4 669.0,207.8 670.0,207.8 671.0,206.0 672.0,206.2 673.0,207.0 674.0,206.4 675.0,206.5 676.0,206.7 677.0,205.9 678.0,206.0 679.0,206.3 679.9,205.1 680.9,204.9 681.9,205.6 682.9,205.7 683.9,205.0 684.9,205.5 685.9,205.0 686.9,205.2 687.9,204.0 688.9,204.2 689.9,204.8 690.9,203.6 691.8,203.5 692.8,203.9 693.8,203.6 694.8,203.0 695.8,202.5 696.8,204.2 697.8,203.3 698.8,204.0 699.8,202.5 700.8,202.9 701.8,202.7 702.8,202.7 703.8,201.6 704.8,203.1 705.8,202.1 706.7,202.3 707.7,201.5 708.7,202.9 709.7,200.9 710.7,202.9 711.7,201.4 712.7,201.3 713.7,201.0 714.7,202.1 715.7,200.7 716.7,200.6 717.7,200.4 718.7,201.2 719.7,201.1 720.7,200.2 721.7,200.9 722.7,201.4 723.6,200.8 724.6,200.5 725.6,199.5 726.6,201.0 727.6,200.8 728.6,199.0 729.6,199.3 730.6,198.0 731.6,199.8 732.6,198.7 733.6,199.2 734.6,200.1 735.6,198.3 736.6,199.6 737.6,198.8 738.6,198.2 739.6,199.5 740.6,198.9 741.6,198.2 742.6,198.8 743.6,198.0 744.5,197.8 745.5,198.0 746.5,198.7 747.5,197.1 748.5,197.2 749.5,198.4 750.5,196.9 751.5,197.6 752.5,197.4 753.5,196.7 754.5,197.0 755.5,197.3 756.5,197.2 757.5,197.5 758.5,197.2 759.5,197.5 760.5,197.0 761.5,196.6 762.5,197.1 763.5,196.9 764.5,197.1 765.5,196.4 766.5,196.4 767.5,196.3 768.5,195.4 769.5,196.5 770.5,195.7 771.5,195.6 772.5,195.8 773.4,197.1 774.4,195.4 775.4,196.6 776.4,194.4 777.4,195.4 778.4,196.7 779.4,195.6 780.4,195.6 781.4,195.0 782.4,194.1 783.4,195.5 784.4,195.7 785.4,195.7 786.4,196.1 787.4,194.9 788.4,195.2 789.4,193.5 790.4,194.5 791.4,194.7 792.4,195.3 793.4,195.6 794.4,195.4 795.4,194.7 796.4,194.2 797.4,194.2 798.4,194.2 799.4,194.2 800.4,194.8 801.4,193.9 802.4,193.0 803.4,193.2 804.4,195.6 805.4,194.6 806.4,193.4 807.4,193.5 808.4,194.0 809.4,193.7 810.4,193.7 811.4,192.3 812.4,192.5 813.4,193.4 814.4,193.7 815.4,193.4 816.4,194.1 817.4,193.1 818.4,193.2 819.4,193.0 820.4,193.5 821.4,192.5 822.3,194.1 823.3,192.1 824.3,193.2 825.3,193.1 826.3,193.6 827.3,191.9 828.3,192.0 829.3,192.3 830.3,192.9 831.3,192.9 832.3,190.8 833.3,192.1 834.3,194.8 835.3,192.4 836.3,192.4 837.3,192.0 838.3,192.1 839.3,190.9 840.3,192.5 841.3,190.5 842.3,191.8 843.3,191.3 844.3,192.0 845.3,191.2 846.3,192.2 847.3,191.9 848.3,192.0 849.3,192.2 850.3,192.2 851.3,191.4 852.3,191.9 853.3,191.7 854.3,191.8 855.3,191.4 856.3,189.8 857.3,191.1 858.3,191.2 859.3,190.9 860.3,190.7 861.3,191.2 862.3,190.7 863.3,191.4 864.3,191.8 865.3,191.0 866.3,191.4 867.3,190.2 868.3,190.3 869.3,190.7 870.3,190.2 871.3,190.8 872.3,190.8 873.3,191.7 874.3,190.4 875.3,191.4 876.3,190.0 877.3,190.5 878.3,191.1 879.3,190.7 880.3,189.1 881.3,190.4" stroke="#28796e" stroke-width="3.4"/>
<polyline points="209.5,619.8 209.7,618.2 209.9,616.7 210.1,616.4 210.3,615.3 210.5,613.7 210.7,613.3 210.9,611.4 211.1,611.1 211.3,611.3 211.5,609.7 211.7,608.5 211.9,607.6 212.1,606.6 212.3,604.5 212.5,603.9 212.7,602.8 212.9,602.5 213.1,601.8 213.3,605.2 213.5,599.2 213.7,597.7 214.0,597.5 214.2,596.4 214.4,595.5 214.6,594.4 214.8,593.7 215.0,592.1 215.2,591.7 215.4,591.1 215.6,589.6 215.9,588.9 216.1,587.2 216.3,587.1 216.5,585.6 216.7,584.3 216.9,583.5 217.1,582.5 217.4,581.6 217.6,580.4 217.8,580.8 218.0,579.3 218.2,578.1 218.5,577.1 218.7,575.8 218.9,575.4 219.1,573.8 219.3,572.9 219.6,571.5 219.8,571.7 220.0,570.7 220.2,569.7 220.5,568.7 220.7,565.7 220.9,566.2 221.2,565.7 221.4,564.5 221.6,562.3 221.8,562.4 222.1,561.6 222.3,560.0 222.5,558.6 222.8,558.0 223.0,555.6 223.2,556.5 223.5,554.9 223.7,554.2 223.9,553.3 224.2,552.4 224.4,552.4 224.7,550.0 224.9,549.4 225.1,547.3 225.4,547.2 225.6,545.5 225.9,546.1 226.1,544.7 226.3,543.4 226.6,543.3 226.8,541.2 227.1,540.7 227.3,539.4 227.6,538.3 227.8,537.8 228.1,536.6 228.3,535.9 228.6,534.3 228.8,534.8 229.1,533.9 229.3,532.3 229.6,529.5 229.8,530.3 230.1,528.6 230.3,528.5 230.6,526.4 230.9,526.6 231.1,525.6 231.4,524.3 231.6,523.8 231.9,522.4 232.1,522.5 232.4,520.9 232.7,523.2 232.9,518.0 233.2,518.6 233.5,516.3 233.7,515.9 234.0,514.4 234.3,514.7 234.5,513.5 234.8,512.3 235.1,510.6 235.3,510.2 235.6,509.8 235.9,507.7 236.2,505.8 236.4,507.7 236.7,505.7 237.0,503.4 237.3,503.4 237.5,502.6 237.8,501.4 238.1,501.3 238.4,500.1 238.7,498.0 239.0,497.4 239.2,497.0 239.5,496.1 239.8,494.4 240.1,494.3 240.4,492.2 240.7,492.2 241.0,489.7 241.2,490.1 241.5,490.1 241.8,488.8 242.1,486.4 242.4,484.2 242.7,485.2 243.0,484.7 243.3,483.2 243.6,482.3 243.9,480.4 244.2,479.9 244.5,478.5 244.8,477.6 245.1,477.0 245.4,477.3 245.7,475.7 246.0,474.0 246.3,473.5 246.7,473.6 247.0,471.3 247.3,470.8 247.6,468.9 247.9,469.0 248.2,467.5 248.5,466.9 248.8,465.4 249.2,465.1 249.5,463.5 249.8,463.4 250.1,461.1 250.5,460.9 250.8,459.7 251.1,458.4 251.4,458.1 251.8,457.3 252.1,456.1 252.4,454.9 252.7,454.2 253.1,453.2 253.4,453.3 253.7,452.1 254.1,451.6 254.4,450.4 254.8,450.0 255.1,448.0 255.4,447.3 255.8,446.2 256.1,445.0 256.5,444.7 256.8,443.6 257.2,442.7 257.5,441.6 257.9,441.2 258.2,438.8 258.6,439.0 258.9,437.7 259.3,436.4 259.6,435.7 260.0,435.2 260.3,434.5 260.7,433.0 261.1,432.6 261.4,431.4 261.8,430.9 262.2,430.0 262.5,428.9 262.9,427.3 263.3,425.9 263.6,426.5 264.0,424.2 264.4,424.3 264.8,422.9 265.1,422.9 265.5,421.0 265.9,419.9 266.3,418.0 266.7,418.6 267.1,417.3 267.4,416.1 267.8,415.3 268.2,415.3 268.6,413.9 269.0,413.2 269.4,411.7 269.8,411.1 270.2,410.5 270.6,408.9 271.0,408.9 271.4,407.1 271.8,407.5 272.2,405.1 272.6,404.2 273.0,403.7 273.4,402.5 273.9,401.7 274.3,400.9 274.7,400.7 275.1,398.8 275.5,400.7 275.9,397.7 276.4,396.4 276.8,395.3 277.2,395.6 277.6,392.1 278.1,392.4 278.5,391.7 278.9,391.2 279.4,390.0 279.8,389.7 280.3,388.5 280.7,388.0 281.1,386.1 281.6,385.8 282.0,385.6 282.5,383.4 282.9,383.0 283.4,381.1 283.8,381.3 284.3,379.7 284.7,379.6 285.2,374.2 285.7,377.5 286.1,376.0 286.6,375.7 287.1,375.1 287.5,375.3 288.0,373.3 288.5,372.5 288.9,372.4 289.4,371.1 289.9,368.9 290.4,369.0 290.9,367.9 291.4,367.4 291.8,366.4 292.3,364.1 292.8,364.0 293.3,364.5 293.8,363.1 294.3,361.2 294.8,360.5 295.3,359.8 295.8,358.3 296.3,356.2 296.8,357.6 297.3,355.8 297.9,355.2 298.4,354.3 298.9,353.6 299.4,352.7 299.9,353.1 300.4,351.1 301.0,350.8 301.5,349.6 302.0,349.5 302.6,348.0 303.1,345.9 303.6,347.3 304.2,346.4 304.7,344.9 305.3,342.7 305.8,343.6 306.4,342.2 306.9,340.7 307.5,340.0 308.0,340.2 308.6,338.3 309.1,337.7 309.7,336.6 310.3,336.5 310.8,334.8 311.4,334.9 312.0,333.5 312.5,334.1 313.1,331.8 313.7,331.3 314.3,331.0 314.9,330.2 315.4,327.9 316.0,328.2 316.6,327.5 317.2,326.8 317.8,325.5 318.4,325.7 319.0,324.9 319.6,323.0 320.2,321.8 320.8,321.6 321.4,321.2 322.0,320.7 322.7,318.6 323.3,318.1 323.9,316.6 324.5,316.4 325.1,316.9 325.8,316.7 326.4,315.1 327.0,313.8 327.7,312.9 328.3,313.5 328.9,312.3 329.6,310.9 330.2,309.7 330.9,308.8 331.5,308.5 332.2,308.9 332.8,306.9 333.5,306.1 334.1,305.7 334.8,304.6 335.5,304.6 336.1,302.6 336.8,302.6 337.5,301.3 338.1,301.5 338.8,300.4 339.5,299.1 340.2,298.5 340.9,298.0 341.6,297.6 342.2,296.9 342.9,296.1 343.6,294.6 344.3,293.5 345.0,292.8 345.7,292.6 346.4,292.5 347.1,291.6 347.8,291.5 348.6,289.5 349.3,289.3 350.0,288.6 350.7,287.4 351.4,286.0 352.1,286.2 352.9,286.5 353.6,284.2 354.3,285.1 355.1,284.4 355.8,283.1 356.5,282.7 357.3,281.8 358.0,281.2 358.7,281.4 359.5,280.6 360.2,279.8 361.0,278.7 361.7,277.8 362.5,277.4 363.3,275.8 364.0,275.4 364.8,275.3 365.5,274.8 366.3,274.0 367.1,273.3 367.9,272.6 368.6,272.0 369.4,271.1 370.2,272.1 371.0,269.0 371.7,269.1 372.5,267.9 373.3,268.5 374.1,268.2 374.9,268.2 375.7,266.0 376.5,266.3 377.3,264.7 378.1,264.6 378.9,264.5 379.7,262.6 380.5,262.8 381.3,261.9 382.1,261.9 382.9,261.6 383.7,259.6 384.5,259.9 385.3,258.5 386.2,257.4 387.0,257.5 387.8,257.2 388.6,256.3 389.5,255.8 390.3,256.7 391.1,255.5 391.9,255.5 392.8,255.1 393.6,253.8 394.4,254.7 395.3,257.7 396.1,252.2 397.0,251.1 397.8,250.8 398.7,250.7 399.5,250.0 400.3,249.6 401.2,249.1 402.1,247.6 402.9,247.4 403.8,247.1 404.6,246.5 405.5,245.5 406.3,245.8 407.2,244.8 408.1,245.4 408.9,243.8 409.8,243.9 410.7,242.1 411.5,242.7 412.4,242.9 413.3,241.8 414.1,241.7 415.0,241.0 415.9,240.2 416.8,240.2 417.6,239.6 418.5,239.2 419.4,238.1 420.3,237.7 421.2,235.9 422.1,237.1 423.0,235.9 423.8,235.7 424.7,236.2 425.6,235.3 426.5,235.0 427.4,233.9 428.3,234.1 429.2,233.4 430.1,233.1 431.0,232.5 431.9,233.1 432.8,231.0 433.7,231.4 434.6,231.0 435.5,230.9 436.4,230.3 437.3,229.3 438.2,229.2 439.1,229.6 440.0,228.9 440.9,227.6 441.9,227.6 442.8,227.0 443.7,227.5 444.6,226.0 445.5,226.6 446.4,226.4 447.3,225.0 448.3,226.0 449.2,224.1 450.1,223.8 451.0,223.9 451.9,222.8 452.9,222.8 453.8,221.6 454.7,221.7 455.6,221.6 456.6,220.4 457.5,221.3 458.4,220.9 459.4,220.0 460.3,220.1 461.2,219.8 462.1,218.5 463.1,219.0 464.0,218.4 464.9,217.5 465.9,217.8 466.8,216.6 467.8,215.2 468.7,216.8 469.6,216.3 470.6,216.9 471.5,215.3 472.4,218.5 473.4,214.3 474.3,213.8 475.3,214.0 476.2,213.9 477.2,213.5 478.1,213.8 479.0,213.5 480.0,211.8 480.9,211.9 481.9,213.0 482.8,212.4 483.8,210.6 484.7,210.5 485.7,211.8 486.6,212.8 487.6,210.8 488.5,208.5 489.5,209.3 490.4,208.5 491.4,209.0 492.3,209.3 493.3,208.5 494.2,208.5 495.2,208.3 496.2,208.3 497.1,207.2 498.1,205.6 499.0,205.5 500.0,210.8 500.9,206.2 501.9,206.2 502.8,205.1 503.8,204.7 504.8,203.6 505.7,203.7 506.7,204.0 507.6,203.4 508.6,202.5 509.6,204.1 510.5,203.0 511.5,202.8 512.5,202.5 513.4,202.1 514.4,201.2 515.4,202.1 516.3,201.0 517.3,200.5 518.2,201.6 519.2,200.6 520.2,200.7 521.1,198.9 522.1,200.9 523.1,199.0 524.0,198.6 525.0,198.8 526.0,198.2 527.0,198.0 527.9,198.6 528.9,198.9 529.9,197.7 530.8,197.6 531.8,197.4 532.8,197.2 533.7,196.1 534.7,197.6 535.7,195.5 536.7,195.8 537.6,197.2 538.6,195.6 539.6,194.8 540.6,195.3 541.5,196.4 542.5,194.8 543.5,193.9 544.4,194.5 545.4,194.3 546.4,193.4 547.4,193.8 548.3,192.1 549.3,193.5 550.3,193.2 551.3,192.9 552.3,192.2 553.2,193.2 554.2,192.6 555.2,192.8 556.2,191.4 557.1,192.0 558.1,192.4 559.1,192.0 560.1,190.4 561.1,190.7 562.0,190.1 563.0,190.1 564.0,190.1 565.0,191.0 566.0,190.6 566.9,189.4 567.9,189.9 568.9,188.8 569.9,188.2 570.9,187.6 571.8,188.0 572.8,189.6 573.8,188.3 574.8,188.3 575.8,188.4 576.7,186.4 577.7,187.3 578.7,187.2 579.7,187.8 580.7,187.1 581.7,184.0 582.6,185.4 583.6,186.5 584.6,186.2 585.6,185.1 586.6,184.9 587.6,185.6 588.6,184.6 589.5,185.5 590.5,184.9 591.5,184.7 592.5,185.9 593.5,184.0 594.5,183.7 595.4,183.9 596.4,182.6 597.4,184.3 598.4,184.1 599.4,183.6 600.4,183.3 601.4,185.1 602.4,182.1 603.3,182.8 604.3,182.7 605.3,183.0 606.3,182.6 607.3,182.8 608.3,182.5 609.3,180.7 610.3,181.3 611.2,182.0 612.2,181.2 613.2,181.3 614.2,181.7 615.2,180.4 616.2,181.0 617.2,181.7 618.2,180.6 619.1,180.0 620.1,180.3 621.1,179.9 622.1,179.2 623.1,180.2 624.1,179.7 625.1,178.4 626.1,180.1 627.1,178.7 628.1,179.1 629.0,179.2 630.0,178.7 631.0,177.9 632.0,177.1 633.0,178.1 634.0,178.4 635.0,177.4 636.0,177.7 637.0,178.6 638.0,177.1 638.9,180.0 639.9,177.7 640.9,176.6 641.9,177.4 642.9,176.9 643.9,177.7 644.9,176.0 645.9,177.1 646.9,175.9 647.9,176.6 648.9,177.2 649.9,176.3 650.8,176.9 651.8,175.7 652.8,176.4 653.8,175.3 654.8,175.4 655.8,175.4 656.8,174.4 657.8,174.6 658.8,174.7 659.8,176.0 660.8,174.9 661.8,174.0 662.8,173.8 663.8,174.4 664.7,173.6 665.7,174.3 666.7,173.4 667.7,173.3 668.7,174.4 669.7,172.6 670.7,175.0 671.7,173.1 672.7,172.5 673.7,173.7 674.7,173.9 675.7,173.9 676.7,173.3 677.7,172.5 678.7,172.7 679.6,172.7 680.6,173.1 681.6,173.0 682.6,172.8 683.6,172.8 684.6,170.8 685.6,171.7 686.6,172.6 687.6,171.5 688.6,171.7 689.6,171.2 690.6,171.4 691.6,171.0 692.6,170.1 693.6,171.4 694.6,171.4 695.6,170.5 696.6,169.6 697.6,170.6 698.5,169.9 699.5,171.2 700.5,170.3 701.5,169.4 702.5,169.9 703.5,171.3 704.5,170.0 705.5,169.5 706.5,169.7 707.5,169.1 708.5,170.2 709.5,168.7 710.5,169.9 711.5,170.1 712.5,169.9 713.5,169.2 714.5,168.9 715.5,169.1 716.5,169.1 717.5,169.2 718.5,168.8 719.5,168.9 720.5,168.4 721.4,168.1 722.4,169.1 723.4,168.6 724.4,168.7 725.4,169.2 726.4,167.7 727.4,167.7 728.4,167.7 729.4,168.4 730.4,166.9 731.4,167.3 732.4,168.1 733.4,166.6 734.4,167.9 735.4,168.4 736.4,167.6 737.4,166.7 738.4,166.9 739.4,166.4 740.4,166.9 741.4,167.5 742.4,167.4 743.4,165.4 744.4,166.2 745.4,166.8 746.4,166.3 747.4,164.9 748.4,166.5 749.4,166.6 750.4,166.2 751.3,166.1 752.3,166.6 753.3,165.1 754.3,165.7 755.3,166.1 756.3,167.8 757.3,165.2 758.3,166.1 759.3,166.6 760.3,165.9 761.3,165.9 762.3,166.1 763.3,164.2 764.3,165.5 765.3,164.8 766.3,166.0 767.3,165.2 768.3,165.1 769.3,164.9 770.3,164.0 771.3,165.3 772.3,163.6 773.3,164.4 774.3,164.3 775.3,165.0 776.3,164.4 777.3,163.8 778.3,164.6 779.3,165.2 780.3,163.4 781.3,164.9 782.3,163.5 783.3,168.1 784.3,163.7 785.3,163.1 786.3,164.7 787.3,164.1 788.3,163.9 789.3,162.7 790.3,163.8 791.3,162.8 792.2,164.2 793.2,162.2 794.2,163.6 795.2,162.2 796.2,162.2 797.2,163.1 798.2,163.5 799.2,163.6 800.2,160.8 801.2,162.4 802.2,163.3 803.2,161.9 804.2,161.9 805.2,162.8 806.2,162.7 807.2,162.5 808.2,163.1 809.2,161.3 810.2,162.5 811.2,163.5 812.2,161.9 813.2,161.3 814.2,162.8 815.2,162.3 816.2,162.6 817.2,162.3 818.2,161.5 819.2,161.6 820.2,160.9 821.2,163.2 822.2,161.0 823.2,161.3 824.2,161.0 825.2,161.7 826.2,162.2 827.2,161.0 828.2,161.5 829.2,161.6 830.2,162.5 831.2,160.9 832.2,161.2 833.2,162.0 834.2,160.0 835.2,160.9 836.2,160.9 837.2,160.1 838.2,160.6 839.2,160.8 840.2,161.3 841.2,161.1 842.2,160.2 843.2,159.9 844.2,161.0 845.2,159.4 846.2,156.9 847.2,161.7 848.2,159.2 849.2,160.3 850.2,159.2 851.2,159.7 852.2,160.8 853.2,160.9 854.2,159.1 855.2,159.3 856.2,159.3 857.2,158.9 858.2,158.2 859.1,160.2 860.1,159.9 861.1,159.0 862.1,160.0 863.1,159.6 864.1,159.4 865.1,159.7 866.1,160.2 867.1,159.3 868.1,159.0 869.1,158.6 870.1,160.0 871.1,159.4 872.1,157.6 873.1,159.1 874.1,159.5 875.1,158.0 876.1,158.0 877.1,159.5 878.1,158.6 879.1,157.9 880.1,158.7 881.1,158.9" stroke="#121012" stroke-width="3.4"/>
<polyline points="204.0,619.6 204.2,619.8 204.4,617.7 204.5,617.4 204.7,615.6 204.9,615.0 205.1,613.8 205.2,612.4 205.4,611.8 205.6,611.2 205.8,609.7 206.0,608.4 206.1,608.0 206.3,607.7 206.5,605.8 206.7,604.2 206.9,603.3 207.1,602.9 207.2,602.9 207.4,600.3 207.6,600.6 207.8,598.8 208.0,597.5 208.2,596.6 208.4,596.7 208.5,594.7 208.7,594.8 208.9,594.3 209.1,591.5 209.3,590.3 209.5,589.0 209.7,589.0 209.9,587.6 210.1,586.8 210.3,585.7 210.5,586.0 210.7,584.6 210.8,583.6 211.0,581.2 211.2,580.7 211.4,580.2 211.6,579.2 211.8,578.5 212.0,578.3 212.2,576.8 212.4,575.9 212.6,574.3 212.8,573.1 213.0,572.1 213.2,571.4 213.4,568.6 213.6,569.1 213.8,568.5 214.1,567.2 214.3,566.5 214.5,564.4 214.7,560.9 214.9,563.6 215.1,563.3 215.3,561.7 215.5,560.5 215.7,559.3 215.9,558.7 216.1,557.4 216.3,557.2 216.6,555.4 216.8,555.2 217.0,553.4 217.2,551.9 217.4,551.0 217.6,551.4 217.8,553.3 218.1,548.6 218.3,549.5 218.5,546.3 218.7,546.0 218.9,544.2 219.2,543.7 219.4,543.4 219.6,541.9 219.8,542.3 220.1,539.6 220.3,538.8 220.5,537.3 220.7,537.2 221.0,535.8 221.2,535.2 221.4,533.8 221.6,533.6 221.9,532.0 222.1,531.4 222.3,530.3 222.6,529.0 222.8,528.5 223.0,527.5 223.3,526.9 223.5,524.4 223.7,525.5 224.0,523.7 224.2,522.9 224.5,522.0 224.7,519.9 224.9,520.2 225.2,519.0 225.4,517.5 225.7,517.3 225.9,515.7 226.2,514.3 226.4,514.5 226.6,513.4 226.9,512.2 227.1,510.9 227.4,511.0 227.6,508.7 227.9,508.3 228.1,507.1 228.4,506.1 228.6,505.5 228.9,503.7 229.2,503.6 229.4,502.5 229.7,504.7 229.9,500.0 230.2,498.6 230.4,498.5 230.7,498.5 231.0,496.2 231.2,495.0 231.5,494.2 231.8,493.8 232.0,493.0 232.3,491.9 232.6,490.7 232.8,489.1 233.1,489.4 233.4,487.7 233.6,487.1 233.9,486.0 234.2,485.0 234.5,484.5 234.7,483.1 235.0,483.4 235.3,482.0 235.6,480.7 235.9,479.1 236.1,478.8 236.4,477.5 236.7,476.8 237.0,475.4 237.3,473.8 237.6,472.9 237.8,472.5 238.1,472.1 238.4,470.6 238.7,469.3 239.0,468.6 239.3,468.1 239.6,466.5 239.9,465.5 240.2,464.9 240.5,464.3 240.8,461.9 241.1,461.8 241.4,461.0 241.7,459.8 242.0,459.5 242.3,458.7 242.6,456.8 242.9,457.7 243.2,455.6 243.5,455.3 243.8,453.9 244.1,451.4 244.4,450.8 244.8,450.7 245.1,450.0 245.4,449.1 245.7,446.6 246.0,446.4 246.4,446.1 246.7,445.7 247.0,444.3 247.3,442.2 247.6,441.7 248.0,440.9 248.3,439.9 248.6,439.8 249.0,439.0 249.3,438.1 249.6,435.7 250.0,434.7 250.3,433.6 250.6,433.4 251.0,432.7 251.3,430.9 251.7,430.9 252.0,430.0 252.4,428.7 252.7,428.2 253.0,426.4 253.4,425.4 253.8,426.0 254.1,424.0 254.5,423.8 254.8,421.9 255.2,420.0 255.5,420.8 255.9,418.8 256.3,418.1 256.6,418.2 257.0,415.8 257.3,415.6 257.7,415.5 258.1,415.1 258.5,412.4 258.8,412.2 259.2,410.7 259.6,411.0 260.0,409.0 260.3,409.2 260.7,406.7 261.1,407.0 261.5,406.5 261.9,405.1 262.3,403.8 262.6,402.5 263.0,401.1 263.4,401.6 263.8,400.6 264.2,399.4 264.6,397.5 265.0,396.8 265.4,396.3 265.8,396.5 266.2,395.7 266.6,394.2 267.0,391.9 267.4,390.6 267.9,390.9 268.3,390.3 268.7,390.1 269.1,387.6 269.5,387.9 269.9,386.1 270.4,385.8 270.8,384.2 271.2,383.3 271.6,382.3 272.1,381.7 272.5,380.3 272.9,379.5 273.4,379.3 273.8,377.4 274.3,377.1 274.7,376.0 275.1,375.4 275.6,375.3 276.0,373.3 276.5,373.8 276.9,370.8 277.4,370.5 277.8,370.6 278.3,367.8 278.8,368.2 279.2,367.8 279.7,365.8 280.2,366.6 280.6,366.0 281.1,364.0 281.6,363.1 282.0,362.7 282.5,361.9 283.0,360.2 283.5,359.4 284.0,360.0 284.4,358.0 284.9,356.9 285.4,355.6 285.9,353.5 286.4,354.3 286.9,353.5 287.4,352.6 287.9,351.6 288.4,351.4 288.9,350.2 289.4,349.3 289.9,348.2 290.4,347.2 290.9,346.7 291.5,345.3 292.0,345.6 292.5,344.2 293.0,343.2 293.5,343.6 294.1,342.0 294.6,339.9 295.1,339.3 295.7,338.9 296.2,337.8 296.7,338.0 297.3,336.9 297.8,336.1 298.4,335.4 298.9,334.4 299.5,332.0 300.0,331.4 300.6,330.8 301.1,330.9 301.7,329.9 302.3,330.0 302.8,328.9 303.4,328.1 304.0,326.0 304.5,325.6 305.1,325.4 305.7,323.3 306.3,322.8 306.8,323.4 307.4,322.8 308.0,319.7 308.6,319.2 309.2,318.4 309.8,317.1 310.4,317.0 311.0,317.0 311.6,316.3 312.2,315.2 312.8,315.1 313.4,313.0 314.0,312.5 314.6,312.8 315.2,311.6 315.8,309.8 316.5,309.8 317.1,308.8 317.7,308.1 318.3,307.4 319.0,306.3 319.6,305.7 320.2,304.5 320.9,304.1 321.5,302.9 322.1,301.8 322.8,301.9 323.4,300.5 324.1,299.8 324.7,299.8 325.4,299.0 326.0,299.1 326.7,298.3 327.3,296.3 328.0,295.6 328.7,294.6 329.3,293.4 330.0,294.5 330.7,293.2 331.4,291.7 332.0,292.4 332.7,291.0 333.4,290.3 334.1,288.8 334.8,286.9 335.5,288.0 336.1,286.5 336.8,285.3 337.5,287.0 338.2,285.1 338.9,283.5 339.6,283.3 340.3,282.9 341.0,281.9 341.8,280.9 342.5,281.4 343.2,279.6 343.9,279.8 344.6,278.4 345.3,277.5 346.1,277.8 346.8,276.0 347.5,275.9 348.2,275.3 349.0,275.0 349.7,273.6 350.4,272.0 351.2,271.2 351.9,270.5 352.7,270.2 353.4,270.2 354.2,269.4 354.9,268.6 355.7,268.2 356.4,267.1 357.2,266.9 357.9,266.4 358.7,267.0 359.4,264.8 360.2,264.2 361.0,263.5 361.7,262.6 362.5,262.9 363.3,261.0 364.0,262.4 364.8,259.6 365.6,259.9 366.4,259.9 367.2,259.0 367.9,258.5 368.7,256.5 369.5,257.3 370.3,256.5 371.1,256.5 371.9,255.0 372.7,254.4 373.5,252.8 374.3,253.5 375.1,251.9 375.9,252.2 376.7,252.5 377.5,250.2 378.3,250.3 379.1,249.3 379.9,248.7 380.7,247.3 381.5,247.6 382.4,247.5 383.2,247.5 384.0,247.1 384.8,245.5 385.6,245.6 386.5,244.4 387.3,243.3 388.1,243.0 389.0,246.0 389.8,242.6 390.6,240.6 391.5,241.4 392.3,240.3 393.1,240.4 394.0,239.5 394.8,238.1 395.6,237.5 396.5,236.8 397.3,237.3 398.2,236.8 399.0,235.5 399.9,236.5 400.7,233.7 401.6,235.5 402.4,234.0 403.3,233.3 404.2,234.1 405.0,230.9 405.9,232.1 406.7,231.2 407.6,231.4 408.5,230.9 409.3,231.0 410.2,230.3 411.1,229.1 411.9,228.2 412.8,227.8 413.7,227.1 414.5,226.8 415.4,226.3 416.3,226.3 417.2,225.7 418.0,224.7 418.9,224.8 419.8,222.8 420.7,223.7 421.6,221.8 422.4,222.5 423.3,222.7 424.2,222.0 425.1,220.7 426.0,220.8 426.9,220.4 427.8,219.7 428.7,219.6 429.6,218.7 430.5,218.1 431.4,217.6 432.2,218.0 433.1,216.7 434.0,216.0 434.9,216.9 435.8,215.5 436.7,214.7 437.6,215.5 438.5,214.3 439.5,213.6 440.4,213.3 441.3,213.8 442.2,213.4 443.1,213.2 444.0,211.7 444.9,213.2 445.8,211.0 446.7,210.2 447.6,210.3 448.6,209.0 449.5,209.2 450.4,209.0 451.3,209.0 452.2,209.3 453.1,208.4 454.1,207.6 455.0,207.4 455.9,206.2 456.8,207.5 457.7,206.3 458.7,206.1 459.6,205.1 460.5,204.5 461.4,204.1 462.4,203.8 463.3,203.6 464.2,204.1 465.1,202.7 466.1,203.2 467.0,202.9 467.9,202.3 468.9,202.2 469.8,200.0 470.7,201.2 471.7,200.4 472.6,201.1 473.5,200.1 474.5,199.4 475.4,199.3 476.3,199.0 477.3,199.6 478.2,198.0 479.2,198.0 480.1,197.2 481.0,197.3 482.0,197.1 482.9,196.6 483.9,196.1 484.8,196.8 485.7,196.2 486.7,195.5 487.6,194.5 488.6,194.8 489.5,194.3 490.5,194.4 491.4,193.9 492.4,192.9 493.3,195.7 494.3,193.7 495.2,192.6 496.2,191.3 497.1,189.6 498.1,190.8 499.0,191.8 500.0,189.9 500.9,191.1 501.9,191.2 502.8,190.8 503.8,188.8 504.7,189.3 505.7,189.8 506.6,189.2 507.6,188.2 508.6,187.5 509.5,187.8 510.5,187.9 511.4,186.6 512.4,186.9 513.3,187.4 514.3,187.2 515.3,186.2 516.2,186.6 517.2,185.5 518.1,184.9 519.1,184.6 520.1,184.1 521.0,184.1 522.0,183.9 523.0,185.2 523.9,184.2 524.9,184.7 525.8,182.5 526.8,183.2 527.8,182.3 528.7,181.4 529.7,182.4 530.7,181.4 531.6,182.0 532.6,182.8 533.6,181.0 534.5,180.7 535.5,180.1 536.5,179.3 537.4,179.8 538.4,179.2 539.4,179.6 540.3,179.0 541.3,179.2 542.3,179.0 543.3,179.2 544.2,177.6 545.2,177.5 546.2,178.6 547.1,178.1 548.1,176.9 549.1,178.6 550.1,175.1 551.0,176.4 552.0,178.6 553.0,176.4 553.9,175.1 554.9,175.7 555.9,175.6 556.9,175.9 557.8,173.8 558.8,174.4 559.8,174.2 560.8,174.9 561.7,175.3 562.7,174.9 563.7,173.2 564.7,173.6 565.7,173.1 566.6,173.0 567.6,172.4 568.6,172.7 569.6,172.3 570.5,172.5 571.5,171.9 572.5,173.3 573.5,170.6 574.5,171.0 575.4,170.8 576.4,171.1 577.4,171.3 578.4,170.5 579.4,172.2 580.3,170.4 581.3,170.9 582.3,169.8 583.3,169.2 584.3,170.9 585.2,168.7 586.2,168.1 587.2,168.4 588.2,168.8 589.2,169.3 590.2,168.1 591.1,167.9 592.1,168.1 593.1,168.2 594.1,167.0 595.1,167.5 596.0,166.8 597.0,167.3 598.0,167.1 599.0,167.3 600.0,167.6 601.0,166.0 602.0,165.6 602.9,166.0 603.9,165.8 604.9,165.6 605.9,165.9 606.9,165.4 607.9,165.6 608.9,165.0 609.8,164.7 610.8,164.1 611.8,164.9 612.8,164.3 613.8,164.9 614.8,164.3 615.8,163.5 616.7,163.8 617.7,163.4 618.7,163.2 619.7,162.3 620.7,164.3 621.7,162.9 622.7,162.0 623.7,162.7 624.6,162.6 625.6,161.5 626.6,160.2 627.6,162.1 628.6,162.2 629.6,161.8 630.6,160.4 631.6,160.6 632.6,161.5 633.5,160.4 634.5,161.5 635.5,161.4 636.5,160.1 637.5,160.6 638.5,160.7 639.5,160.4 640.5,159.7 641.5,159.7 642.4,159.7 643.4,160.5 644.4,159.8 645.4,160.0 646.4,159.3 647.4,159.3 648.4,159.4 649.4,158.6 650.4,158.2 651.4,158.7 652.4,158.1 653.3,157.9 654.3,157.6 655.3,157.1 656.3,157.9 657.3,157.1 658.3,157.1 659.3,157.2 660.3,156.6 661.3,157.5 662.3,157.6 663.3,156.3 664.3,156.6 665.2,156.5 666.2,156.4 667.2,156.5 668.2,156.5 669.2,155.8 670.2,156.5 671.2,154.8 672.2,155.2 673.2,156.3 674.2,155.3 675.2,155.7 676.2,156.1 677.2,156.3 678.2,154.5 679.2,154.6 680.1,154.5 681.1,154.4 682.1,154.8 683.1,153.4 684.1,154.7 685.1,154.3 686.1,155.1 687.1,153.2 688.1,154.4 689.1,153.7 690.1,153.4 691.1,154.2 692.1,154.1 693.1,152.7 694.1,152.0 695.1,153.1 696.0,152.9 697.0,154.7 698.0,152.9 699.0,152.5 700.0,152.8 701.0,151.2 702.0,153.1 703.0,152.6 704.0,152.0 705.0,152.5 706.0,152.0 707.0,152.4 708.0,152.6 709.0,152.1 710.0,150.0 711.0,152.4 712.0,151.6 713.0,151.9 714.0,150.9 715.0,151.2 716.0,151.0 716.9,151.4 717.9,151.4 718.9,151.1 719.9,150.9 720.9,151.2 721.9,151.3 722.9,150.9 723.9,150.2 724.9,150.8 725.9,149.9 726.9,150.3 727.9,150.9 728.9,149.1 729.9,149.2 730.9,148.5 731.9,150.8 732.9,149.7 733.9,149.8 734.9,149.6 735.9,149.3 736.9,148.8 737.9,149.3 738.9,148.5 739.9,149.4 740.9,149.9 741.9,150.2 742.8,148.2 743.8,148.5 744.8,148.1 745.8,147.5 746.8,147.7 747.8,148.3 748.8,148.9 749.8,148.9 750.8,147.6 751.8,148.4 752.8,147.8 753.8,148.0 754.8,148.4 755.8,148.3 756.8,148.2 757.8,147.8 758.8,147.7 759.8,147.6 760.8,147.7 761.8,147.3 762.8,147.5 763.8,147.3 764.8,147.9 765.8,146.5 766.8,146.7 767.8,146.9 768.8,146.8 769.8,145.4 770.8,147.3 771.8,147.5 772.8,145.6 773.8,145.7 774.8,147.2 775.8,145.5 776.8,146.3 777.8,146.1 778.7,145.9 779.7,146.3 780.7,145.4 781.7,145.0 782.7,145.5 783.7,145.7 784.7,145.8 785.7,146.1 786.7,146.5 787.7,145.8 788.7,145.4 789.7,145.7 790.7,144.6 791.7,144.8 792.7,144.8 793.7,144.2 794.7,145.5 795.7,144.4 796.7,144.1 797.7,144.3 798.7,145.7 799.7,145.5 800.7,144.9 801.7,145.0 802.7,143.5 803.7,144.0 804.7,144.6 805.7,143.8 806.7,143.5 807.7,143.8 808.7,144.7 809.7,145.0 810.7,143.5 811.7,144.8 812.7,143.2 813.7,144.0 814.7,141.9 815.7,143.6 816.7,144.8 817.7,144.2 818.7,143.7 819.7,144.2 820.7,143.1 821.7,143.7 822.7,144.3 823.7,143.6 824.7,144.5 825.7,142.7 826.7,142.5 827.7,143.0 828.7,143.0 829.7,142.8 830.7,143.9 831.7,143.2 832.7,142.3 833.7,142.5 834.7,143.1 835.6,142.0 836.6,142.9 837.6,142.1 838.6,142.6 839.6,142.7 840.6,141.7 841.6,142.2 842.6,142.2 843.6,142.4 844.6,142.7 845.6,142.2 846.6,141.9 847.6,141.9 848.6,141.6 849.6,141.9 850.6,142.6 851.6,142.5 852.6,142.6 853.6,141.4 854.6,140.8 855.6,141.2 856.6,141.7 857.6,141.3 858.6,140.9 859.6,141.6 860.6,142.3 861.6,141.3 862.6,141.7 863.6,142.6 864.6,141.0 865.6,141.8 866.6,140.4 867.6,140.8 868.6,141.1 869.6,141.8 870.6,141.2 871.6,140.8 872.6,141.4 873.6,141.9 874.6,141.8 875.6,140.4 876.6,141.2 877.6,140.5 878.6,141.2 879.6,141.4 880.6,140.1 881.6,141.9" stroke="#a8268c" stroke-width="3.4"/>
<polyline points="202.2,617.4 202.4,618.2 202.6,617.0 202.8,616.2 203.0,615.1 203.1,613.5 203.3,613.3 203.5,611.3 203.7,610.4 203.8,609.8 204.0,609.6 204.2,607.2 204.4,608.8 204.6,605.6 204.8,604.1 204.9,604.2 205.1,602.6 205.3,602.5 205.5,601.6 205.7,599.5 205.9,599.4 206.0,597.8 206.2,597.3 206.4,595.9 206.6,595.1 206.8,594.4 207.0,594.4 207.2,595.4 207.4,591.7 207.5,591.2 207.7,588.8 207.9,589.7 208.1,587.2 208.3,586.6 208.5,585.7 208.7,584.3 208.9,584.3 209.1,583.2 209.3,581.6 209.5,580.5 209.7,579.6 209.9,578.9 210.1,577.9 210.3,575.8 210.5,576.0 210.7,574.9 210.9,573.4 211.1,572.2 211.3,570.7 211.5,570.9 211.7,569.3 211.9,568.5 212.1,569.3 212.3,565.9 212.5,564.6 212.7,565.3 212.9,562.8 213.1,562.5 213.3,561.9 213.5,560.3 213.7,560.6 213.9,558.9 214.1,558.0 214.3,556.5 214.5,555.4 214.7,554.9 215.0,555.1 215.2,553.0 215.4,552.4 215.6,551.4 215.8,549.6 216.0,549.6 216.2,547.8 216.5,546.1 216.7,545.1 216.9,545.6 217.1,545.4 217.3,543.7 217.5,543.0 217.8,540.6 218.0,538.6 218.2,540.4 218.4,539.0 218.6,536.5 218.9,536.6 219.1,535.5 219.3,534.4 219.5,532.9 219.8,532.8 220.0,532.0 220.2,529.8 220.5,529.9 220.7,527.8 220.9,528.1 221.1,526.6 221.4,526.3 221.6,525.1 221.8,522.0 222.1,522.2 222.3,521.9 222.5,521.2 222.8,520.6 223.0,518.2 223.3,517.9 223.5,518.4 223.7,516.1 224.0,514.5 224.2,513.0 224.4,513.4 224.7,512.7 224.9,510.7 225.2,510.7 225.4,509.9 225.7,509.1 225.9,507.7 226.2,506.2 226.4,505.0 226.7,505.0 226.9,502.6 227.2,503.4 227.4,501.9 227.7,500.4 227.9,498.5 228.2,498.1 228.4,496.7 228.7,496.0 228.9,496.0 229.2,496.1 229.4,493.1 229.7,492.3 230.0,493.1 230.2,490.9 230.5,490.1 230.8,488.5 231.0,488.9 231.3,487.1 231.5,486.5 231.8,485.6 232.1,485.1 232.4,483.4 232.6,481.9 232.9,481.6 233.2,480.2 233.4,478.3 233.7,478.0 234.0,476.5 234.3,476.3 234.5,475.2 234.8,474.3 235.1,472.6 235.4,472.9 235.6,471.7 235.9,471.3 236.2,469.0 236.5,468.4 236.8,467.4 237.1,467.1 237.4,465.4 237.6,465.2 237.9,463.3 238.2,463.3 238.5,462.1 238.8,461.0 239.1,460.0 239.4,459.1 239.7,458.8 240.0,457.9 240.3,456.8 240.6,455.4 240.9,454.1 241.2,453.1 241.5,452.3 241.8,448.4 242.1,450.2 242.4,448.9 242.7,448.0 243.0,448.2 243.3,448.4 243.6,445.8 243.9,444.6 244.3,444.1 244.6,442.8 244.9,442.7 245.2,441.2 245.5,439.4 245.8,439.2 246.2,437.6 246.5,437.0 246.8,436.9 247.1,434.6 247.4,434.8 247.8,433.4 248.1,433.2 248.4,431.6 248.8,431.2 249.1,429.8 249.4,429.5 249.8,428.0 250.1,426.4 250.4,426.0 250.8,425.0 251.1,425.1 251.5,422.7 251.8,421.3 252.1,422.0 252.5,419.9 252.8,418.4 253.2,417.9 253.5,417.0 253.9,416.3 254.2,416.9 254.6,414.5 254.9,414.1 255.3,413.1 255.7,411.5 256.0,409.9 256.4,411.1 256.7,408.8 257.1,407.7 257.5,407.5 257.8,405.8 258.2,405.0 258.6,405.0 259.0,403.2 259.3,402.7 259.7,401.4 260.1,401.6 260.5,398.8 260.8,397.2 261.2,398.0 261.6,396.8 262.0,397.8 262.4,395.2 262.8,394.3 263.2,393.8 263.5,392.6 263.9,391.9 264.3,390.0 264.7,389.5 265.1,389.6 265.5,387.1 265.9,386.7 266.3,386.2 266.7,385.5 267.1,384.2 267.6,383.7 268.0,382.8 268.4,381.5 268.8,380.1 269.2,379.9 269.6,378.4 270.0,377.5 270.5,377.7 270.9,376.3 271.3,374.4 271.7,373.2 272.2,372.8 272.6,372.5 273.0,371.8 273.5,370.6 273.9,370.9 274.3,368.7 274.8,367.3 275.2,366.9 275.7,366.6 276.1,365.5 276.6,364.5 277.0,364.2 277.5,363.1 277.9,362.6 278.4,360.5 278.8,360.1 279.3,359.1 279.8,358.2 280.2,358.3 280.7,356.7 281.2,355.8 281.6,353.9 282.1,353.6 282.6,353.2 283.0,352.1 283.5,350.5 284.0,350.6 284.5,349.3 285.0,349.1 285.5,348.0 285.9,347.3 286.4,345.4 286.9,341.7 287.4,344.7 287.9,345.0 288.4,342.9 288.9,341.9 289.4,340.5 289.9,341.1 290.4,339.2 291.0,338.1 291.5,337.5 292.0,336.2 292.5,336.0 293.0,334.8 293.5,333.8 294.1,332.2 294.6,331.5 295.1,331.1 295.7,329.1 296.2,329.1 296.7,328.7 297.3,327.9 297.8,328.3 298.3,325.0 298.9,325.2 299.4,324.3 300.0,323.9 300.5,322.7 301.1,321.6 301.7,321.3 302.2,320.2 302.8,320.8 303.3,318.5 303.9,318.1 304.5,317.6 305.0,316.5 305.6,315.3 306.2,314.5 306.8,313.7 307.4,312.5 307.9,312.2 308.5,312.3 309.1,311.4 309.7,309.2 310.3,309.4 310.9,308.1 311.5,307.2 312.1,306.4 312.7,306.2 313.3,304.4 313.9,303.6 314.5,304.1 315.1,301.5 315.7,301.4 316.4,301.2 317.0,300.1 317.6,299.2 318.2,299.7 318.8,298.6 319.5,297.3 320.1,296.9 320.7,295.5 321.4,294.6 322.0,294.7 322.7,294.0 323.3,291.8 323.9,292.6 324.6,292.2 325.2,290.8 325.9,293.9 326.6,289.1 327.2,291.7 327.9,287.9 328.5,286.4 329.2,285.6 329.9,284.4 330.5,284.2 331.2,283.6 331.9,281.9 332.6,281.6 333.3,280.7 333.9,281.1 334.6,279.9 335.3,278.8 336.0,279.0 336.7,277.7 337.4,276.4 338.1,275.9 338.8,276.1 339.5,274.8 340.2,273.0 340.9,273.0 341.6,272.4 342.3,270.5 343.0,271.8 343.7,271.3 344.5,269.3 345.2,269.7 345.9,268.7 346.6,267.9 347.4,266.5 348.1,267.5 348.8,265.9 349.5,264.6 350.3,264.8 351.0,263.7 351.8,262.5 352.5,262.7 353.2,261.9 354.0,259.8 354.7,260.3 355.5,259.9 356.3,263.0 357.0,259.0 357.8,259.2 358.5,257.2 359.3,255.7 360.0,255.7 360.8,254.7 361.6,255.0 362.4,254.5 363.1,252.9 363.9,251.3 364.7,252.1 365.5,251.9 366.2,250.5 367.0,249.2 367.8,249.8 368.6,248.3 369.4,246.2 370.2,247.5 371.0,247.4 371.8,245.5 372.5,246.5 373.3,245.3 374.1,244.1 374.9,243.3 375.7,242.1 376.6,242.7 377.4,241.3 378.2,241.6 379.0,239.8 379.8,240.9 380.6,239.9 381.4,239.7 382.2,238.6 383.1,237.3 383.9,238.2 384.7,237.7 385.5,237.3 386.4,235.5 387.2,235.4 388.0,235.1 388.8,233.8 389.7,233.6 390.5,233.1 391.3,233.0 392.2,230.9 393.0,232.3 393.9,230.9 394.7,230.4 395.6,229.5 396.4,229.9 397.2,229.2 398.1,228.3 398.9,228.3 399.8,226.8 400.6,227.1 401.5,225.6 402.4,225.4 403.2,226.2 404.1,224.2 404.9,223.6 405.8,223.5 406.7,223.2 407.5,222.9 408.4,222.1 409.3,221.6 410.1,221.1 411.0,222.1 411.9,219.2 412.7,219.8 413.6,219.7 414.5,218.1 415.4,218.5 416.2,218.0 417.1,215.6 418.0,217.9 418.9,216.9 419.8,216.1 420.6,214.9 421.5,214.8 422.4,214.0 423.3,213.5 424.2,214.1 425.1,211.7 426.0,211.2 426.8,211.7 427.7,212.1 428.6,210.6 429.5,211.2 430.4,209.9 431.3,209.8 432.2,209.4 433.1,209.2 434.0,208.9 434.9,208.0 435.8,207.1 436.7,206.4 437.6,207.6 438.5,206.6 439.4,206.6 440.3,205.1 441.2,205.5 442.2,205.3 443.1,205.1 444.0,203.9 444.9,204.3 445.8,202.3 446.7,202.5 447.6,201.7 448.5,201.1 449.5,201.5 450.4,201.6 451.3,200.2 452.2,199.9 453.1,199.5 454.0,199.1 455.0,199.6 455.9,199.3 456.8,196.9 457.7,198.2 458.7,197.8 459.6,196.8 460.5,195.7 461.4,196.3 462.4,195.2 463.3,195.9 464.2,195.5 465.1,195.7 466.1,194.2 467.0,194.3 467.9,193.6 468.9,193.7 469.8,192.7 470.7,192.4 471.7,191.7 472.6,192.0 473.5,191.7 474.5,192.3 475.4,191.2 476.3,190.4 477.3,190.9 478.2,190.5 479.2,189.3 480.1,189.3 481.0,188.7 482.0,188.4 482.9,188.2 483.9,187.7 484.8,187.1 485.8,187.4 486.7,186.5 487.6,185.4 488.6,185.8 489.5,186.5 490.5,185.7 491.4,185.5 492.4,185.0 493.3,184.1 494.3,183.3 495.2,183.1 496.2,183.6 497.1,183.1 498.1,183.0 499.0,182.3 500.0,183.7 500.9,181.6 501.9,182.6 502.8,181.2 503.8,181.9 504.7,183.9 505.7,181.6 506.6,181.1 507.6,180.3 508.6,178.8 509.5,178.4 510.5,179.2 511.4,179.3 512.4,177.7 513.3,178.9 514.3,178.0 515.3,177.0 516.2,177.5 517.2,178.5 518.1,176.4 519.1,176.7 520.1,176.5 521.0,175.7 522.0,176.4 522.9,176.3 523.9,175.5 524.9,175.8 525.8,174.7 526.8,174.8 527.8,173.4 528.7,174.5 529.7,173.5 530.7,172.2 531.6,173.0 532.6,171.9 533.5,171.8 534.5,172.7 535.5,172.4 536.4,171.1 537.4,170.0 538.4,171.5 539.4,170.2 540.3,171.1 541.3,170.9 542.3,170.4 543.2,171.2 544.2,170.8 545.2,169.3 546.1,168.9 547.1,168.9 548.1,168.9 549.1,167.6 550.0,168.0 551.0,168.0 552.0,166.8 552.9,166.7 553.9,167.5 554.9,166.2 555.9,167.6 556.8,166.9 557.8,166.5 558.8,165.7 559.8,165.3 560.7,165.8 561.7,165.7 562.7,165.9 563.7,163.4 564.6,165.1 565.6,165.1 566.6,164.0 567.6,164.4 568.5,163.6 569.5,163.4 570.5,162.6 571.5,163.7 572.4,163.1 573.4,162.7 574.4,162.4 575.4,162.7 576.4,163.1 577.3,162.9 578.3,161.9 579.3,161.1 580.3,161.8 581.2,160.2 582.2,162.0 583.2,161.3 584.2,160.3 585.2,160.3 586.1,159.8 587.1,160.3 588.1,159.3 589.1,159.7 590.1,159.1 591.1,158.2 592.0,159.1 593.0,158.6 594.0,158.2 595.0,157.7 596.0,158.0 596.9,157.8 597.9,157.5 598.9,157.4 599.9,157.4 600.9,156.8 601.9,157.7 602.8,157.2 603.8,157.2 604.8,156.1 605.8,156.2 606.8,156.4 607.8,156.1 608.8,155.6 609.7,155.4 610.7,156.0 611.7,156.0 612.7,156.3 613.7,155.0 614.7,155.4 615.6,155.3 616.6,157.6 617.6,154.6 618.6,154.3 619.6,154.7 620.6,154.5 621.6,153.3 622.6,153.5 623.5,153.0 624.5,153.5 625.5,152.9 626.5,153.2 627.5,153.7 628.5,152.4 629.5,153.2 630.5,152.5 631.4,152.2 632.4,152.0 633.4,151.9 634.4,152.2 635.4,152.8 636.4,151.6 637.4,151.2 638.4,151.9 639.3,151.5 640.3,148.7 641.3,151.3 642.3,150.4 643.3,150.6 644.3,150.8 645.3,149.9 646.3,149.9 647.3,150.2 648.3,148.9 649.2,149.4 650.2,148.4 651.2,149.4 652.2,149.1 653.2,148.4 654.2,148.5 655.2,147.7 656.2,148.5 657.2,147.9 658.2,148.4 659.1,148.7 660.1,147.8 661.1,147.3 662.1,148.6 663.1,147.3 664.1,148.2 665.1,147.7 666.1,148.0 667.1,146.9 668.1,146.0 669.1,144.3 670.1,146.8 671.0,147.7 672.0,146.0 673.0,146.7 674.0,145.5 675.0,145.9 676.0,146.7 677.0,146.5 678.0,146.1 679.0,145.7 680.0,145.8 681.0,146.0 682.0,145.2 683.0,145.1 684.0,145.2 684.9,145.2 685.9,143.8 686.9,144.6 687.9,144.4 688.9,144.5 689.9,144.0 690.9,144.9 691.9,144.6 692.9,144.1 693.9,145.7 694.9,144.3 695.9,144.5 696.9,143.8 697.9,141.2 698.9,144.0 699.8,142.9 700.8,142.3 701.8,144.3 702.8,142.0 703.8,142.1 704.8,142.6 705.8,142.3 706.8,142.6 707.8,143.4 708.8,142.8 709.8,141.0 710.8,141.8 711.8,142.2 712.8,141.9 713.8,140.7 714.8,141.4 715.8,142.3 716.8,141.5 717.8,141.1 718.8,140.6 719.7,141.8 720.7,142.6 721.7,140.6 722.7,141.6 723.7,140.9 724.7,140.1 725.7,139.8 726.7,140.8 727.7,140.4 728.7,140.0 729.7,140.5 730.7,140.5 731.7,141.7 732.7,140.0 733.7,139.5 734.7,139.3 735.7,140.1 736.7,140.2 737.7,139.5 738.7,140.1 739.7,139.5 740.7,139.2 741.7,139.0 742.7,139.2 743.6,139.3 744.6,138.8 745.6,138.3 746.6,138.2 747.6,139.5 748.6,138.4 749.6,139.7 750.6,137.7 751.6,138.4 752.6,138.2 753.6,137.5 754.6,137.1 755.6,137.6 756.6,138.8 757.6,137.4 758.6,138.1 759.6,138.0 760.6,138.1 761.6,136.2 762.6,137.2 763.6,136.2 764.6,137.7 765.6,137.8 766.6,137.9 767.6,137.6 768.6,137.8 769.6,137.7 770.6,137.2 771.6,137.4 772.6,136.3 773.6,136.9 774.6,136.1 775.6,136.2 776.5,136.6 777.5,137.3 778.5,136.3 779.5,136.7 780.5,136.3 781.5,137.0 782.5,136.6 783.5,135.8 784.5,136.6 785.5,136.1 786.5,135.8 787.5,136.8 788.5,135.8 789.5,135.3 790.5,134.3 791.5,134.6 792.5,136.0 793.5,133.4 794.5,136.0 795.5,132.1 796.5,134.5 797.5,135.7 798.5,134.0 799.5,134.7 800.5,134.4 801.5,134.8 802.5,135.5 803.5,135.9 804.5,133.7 805.5,134.1 806.5,136.2 807.5,135.0 808.5,135.8 809.5,135.6 810.5,134.5 811.5,133.9 812.5,134.9 813.5,134.5 814.5,135.2 815.5,134.4 816.5,135.6 817.5,133.1 818.5,133.0 819.5,133.6 820.5,133.2 821.5,133.9 822.5,133.3 823.5,134.5 824.5,133.8 825.5,133.9 826.5,133.2 827.5,133.5 828.5,133.2 829.5,132.8 830.5,133.5 831.5,132.1 832.5,133.0 833.4,132.8 834.4,133.9 835.4,132.9 836.4,132.0 837.4,132.9 838.4,133.2 839.4,133.2 840.4,133.4 841.4,133.3 842.4,133.1 843.4,133.6 844.4,132.5 845.4,133.0 846.4,132.7 847.4,132.8 848.4,132.8 849.4,132.3 850.4,132.3 851.4,132.4 852.4,131.0 853.4,132.5 854.4,132.8 855.4,132.1 856.4,131.9 857.4,132.0 858.4,132.7 859.4,131.7 860.4,132.6 861.4,131.1 862.4,131.5 863.4,132.8 864.4,131.5 865.4,130.9 866.4,131.9 867.4,131.4 868.4,131.6 869.4,131.9 870.4,131.3 871.4,131.8 872.4,131.3 873.4,131.5 874.4,131.3 875.4,130.6 876.4,130.8 877.4,130.9 878.4,131.7 879.4,130.7 880.4,130.6" stroke="#4f7068" stroke-width="3.4"/>
</g>
<line x1="149.5" y1="99.1" x2="161.0" y2="99.1" stroke="#141112" stroke-width="3.4" stroke-linecap="butt"/>
<line x1="931.3" y1="99.1" x2="920.0" y2="99.1" stroke="#141112" stroke-width="3.4" stroke-linecap="butt"/>
<line x1="149.5" y1="203.9" x2="161.0" y2="203.9" stroke="#141112" stroke-width="3.4" stroke-linecap="butt"/>
<line x1="931.3" y1="203.9" x2="920.0" y2="203.9" stroke="#141112" stroke-width="3.4" stroke-linecap="butt"/>
<line x1="149.5" y1="308.7" x2="161.0" y2="308.7" stroke="#141112" stroke-width="3.4" stroke-linecap="butt"/>
<line x1="931.3" y1="308.7" x2="920.0" y2="308.7" stroke="#141112" stroke-width="3.4" stroke-linecap="butt"/>
<line x1="149.5" y1="412.8" x2="161.0" y2="412.8" stroke="#141112" stroke-width="3.4" stroke-linecap="butt"/>
<line x1="931.3" y1="412.8" x2="920.0" y2="412.8" stroke="#141112" stroke-width="3.4" stroke-linecap="butt"/>
<line x1="149.5" y1="517.7" x2="161.0" y2="517.7" stroke="#141112" stroke-width="3.4" stroke-linecap="butt"/>
<line x1="931.3" y1="517.7" x2="920.0" y2="517.7" stroke="#141112" stroke-width="3.4" stroke-linecap="butt"/>
<line x1="149.5" y1="613.7" x2="161.0" y2="613.7" stroke="#141112" stroke-width="3.4" stroke-linecap="butt"/>
<line x1="931.3" y1="613.7" x2="920.0" y2="613.7" stroke="#141112" stroke-width="3.4" stroke-linecap="butt"/>
<line x1="155.5" y1="152.5" x2="161.0" y2="152.5" stroke="#141112" stroke-width="3.4" stroke-linecap="butt"/>
<line x1="931.3" y1="152.5" x2="926.0" y2="152.5" stroke="#141112" stroke-width="3.4" stroke-linecap="butt"/>
<line x1="155.5" y1="257.3" x2="161.0" y2="257.3" stroke="#141112" stroke-width="3.4" stroke-linecap="butt"/>
<line x1="931.3" y1="257.3" x2="926.0" y2="257.3" stroke="#141112" stroke-width="3.4" stroke-linecap="butt"/>
<line x1="155.5" y1="361.5" x2="161.0" y2="361.5" stroke="#141112" stroke-width="3.4" stroke-linecap="butt"/>
<line x1="931.3" y1="361.5" x2="926.0" y2="361.5" stroke="#141112" stroke-width="3.4" stroke-linecap="butt"/>
<line x1="155.5" y1="466.0" x2="161.0" y2="466.0" stroke="#141112" stroke-width="3.4" stroke-linecap="butt"/>
<line x1="931.3" y1="466.0" x2="926.0" y2="466.0" stroke="#141112" stroke-width="3.4" stroke-linecap="butt"/>
<line x1="155.5" y1="570.0" x2="161.0" y2="570.0" stroke="#141112" stroke-width="3.4" stroke-linecap="butt"/>
<line x1="931.3" y1="570.0" x2="926.0" y2="570.0" stroke="#141112" stroke-width="3.4" stroke-linecap="butt"/>
<line x1="161.0" y1="613.7" x2="161.0" y2="625.0" stroke="#141112" stroke-width="3.4" stroke-linecap="butt"/>
<line x1="341.8" y1="613.7" x2="341.8" y2="625.0" stroke="#141112" stroke-width="3.4" stroke-linecap="butt"/>
<line x1="521.2" y1="613.7" x2="521.2" y2="625.0" stroke="#141112" stroke-width="3.4" stroke-linecap="butt"/>
<line x1="701.5" y1="613.7" x2="701.5" y2="625.0" stroke="#141112" stroke-width="3.4" stroke-linecap="butt"/>
<line x1="881.8" y1="613.7" x2="881.8" y2="625.0" stroke="#141112" stroke-width="3.4" stroke-linecap="butt"/>
<line x1="197.0" y1="49.7" x2="197.0" y2="60.5" stroke="#141112" stroke-width="3.4" stroke-linecap="butt"/>
<line x1="338.8" y1="49.7" x2="338.8" y2="60.5" stroke="#141112" stroke-width="3.4" stroke-linecap="butt"/>
<line x1="523.6" y1="49.7" x2="523.6" y2="60.5" stroke="#141112" stroke-width="3.4" stroke-linecap="butt"/>
<line x1="763.8" y1="49.7" x2="763.8" y2="60.5" stroke="#141112" stroke-width="3.4" stroke-linecap="butt"/>
<line x1="884.3" y1="49.7" x2="884.3" y2="60.5" stroke="#141112" stroke-width="3.4" stroke-linecap="butt"/>
<text transform="translate(142.60,112.40) scale(1.0044,1.0500)" font-size="35.8" text-anchor="end" font-weight="bold" >2.4</text>
<text transform="translate(143.60,217.20) scale(1.0222,1.0500)" font-size="35.8" text-anchor="end" font-weight="bold" >2.2</text>
<text transform="translate(143.60,321.50) scale(1.0222,1.0500)" font-size="35.8" text-anchor="end" font-weight="bold" >2.0</text>
<text transform="translate(143.00,426.40) scale(1.0000,1.0500)" font-size="35.8" text-anchor="end" font-weight="bold" >1.8</text>
<text transform="translate(143.20,530.70) scale(1.0010,1.0500)" font-size="35.8" text-anchor="end" font-weight="bold" >1.6</text>
<text transform="translate(141.40,628.10) scale(0.9621,1.0500)" font-size="35.8" text-anchor="end" font-weight="bold" >1.4</text>
<text transform="translate(160.50,661.20) scale(1.0000,1.0500)" font-size="35.8" text-anchor="middle" font-weight="bold" >20</text>
<text transform="translate(341.80,661.20) scale(1.0000,1.0500)" font-size="35.8" text-anchor="middle" font-weight="bold" >45</text>
<text transform="translate(522.20,661.20) scale(1.0000,1.0500)" font-size="35.8" text-anchor="middle" font-weight="bold" >70</text>
<text transform="translate(702.70,661.20) scale(1.0000,1.0500)" font-size="35.8" text-anchor="middle" font-weight="bold" >95</text>
<text transform="translate(883.30,661.20) scale(1.0000,1.0500)" font-size="35.8" text-anchor="middle" font-weight="bold" >120</text>
<text transform="translate(459.10,714.40) scale(1.0000,1.0150)" font-size="41.4" text-anchor="start" font-weight="bold" >Time (s)</text>
<g transform="translate(0,573.70) rotate(-90)"><text transform="translate(-1.65,42.00) scale(0.9845,1)" font-size="42" font-weight="bold" >Current density</text><text transform="translate(314.75,42.20) scale(1.0000,1)" font-size="42.4" font-weight="normal" stroke="#111" stroke-width="0.9">(</text><path transform="translate(336,42)" d="M3.1,-19.8 L3.1,-4.5 Q3.1,-0.6 9.2,-0.6 Q15.3,-0.6 15.3,-4.5 M15.3,-19.8 L15.3,-3.2 Q15.3,-0.9 19.3,-1.6 M3.1,-3 L3.1,5.2 Q3.4,6.6 5.6,6.6" fill="none" stroke="#111" stroke-width="3.0" stroke-linecap="butt"/><text transform="translate(361.65,42.10) scale(0.9800,1)" font-size="43" font-weight="bold" >A</text><text transform="translate(401.70,42.00) scale(1.0000,1)" font-size="41.6" font-weight="bold" >cm</text><text transform="translate(459.70,26.00) scale(0.9680,1)" font-size="28" font-weight="bold" >-2</text><text transform="translate(487.10,42.20) scale(0.8000,1)" font-size="42.5" font-weight="normal" stroke="#111" stroke-width="0.9">)</text></g>
<line x1="803.0" y1="572.5" x2="803.0" y2="112.0" stroke="#1c1a1b" stroke-width="3.7" stroke-linecap="butt"/>
<polygon points="803,91.5 791,116 815,116" fill="#111"/>
<text transform="translate(750.80,99.90) scale(1.0000,1.0000)" font-size="32.6" text-anchor="start" font-weight="normal" stroke="#111" stroke-width="0.5">(2)</text>
<text transform="translate(750.80,579.90) scale(1.0000,1.0000)" font-size="32.6" text-anchor="start" font-weight="normal" stroke="#111" stroke-width="0.5">(1)</text>
<text transform="translate(7.20,792.60) scale(1.0000,1.0000)" font-size="32" text-anchor="start" font-weight="bold" >(b)</text>
<rect x="160.0" y="817.4" width="779.5" height="572.1" fill="none" stroke="#141112" stroke-width="3.7" stroke-linejoin="round"/>
<line x1="154.7" y1="817.4" x2="160.0" y2="817.4" stroke="#141112" stroke-width="3.7" stroke-linecap="butt"/>
<line x1="149.8" y1="866.5" x2="160.0" y2="866.5" stroke="#141112" stroke-width="3.4" stroke-linecap="butt"/>
<line x1="939.5" y1="866.5" x2="929.5" y2="866.5" stroke="#141112" stroke-width="3.4" stroke-linecap="butt"/>
<line x1="149.8" y1="971.1" x2="160.0" y2="971.1" stroke="#141112" stroke-width="3.4" stroke-linecap="butt"/>
<line x1="939.5" y1="971.1" x2="929.5" y2="971.1" stroke="#141112" stroke-width="3.4" stroke-linecap="butt"/>
<line x1="149.8" y1="1075.8" x2="160.0" y2="1075.8" stroke="#141112" stroke-width="3.4" stroke-linecap="butt"/>
<line x1="939.5" y1="1075.8" x2="929.5" y2="1075.8" stroke="#141112" stroke-width="3.4" stroke-linecap="butt"/>
<line x1="149.8" y1="1180.5" x2="160.0" y2="1180.5" stroke="#141112" stroke-width="3.4" stroke-linecap="butt"/>
<line x1="939.5" y1="1180.5" x2="929.5" y2="1180.5" stroke="#141112" stroke-width="3.4" stroke-linecap="butt"/>
<line x1="149.8" y1="1285.2" x2="160.0" y2="1285.2" stroke="#141112" stroke-width="3.4" stroke-linecap="butt"/>
<line x1="939.5" y1="1285.2" x2="929.5" y2="1285.2" stroke="#141112" stroke-width="3.4" stroke-linecap="butt"/>
<line x1="149.8" y1="1389.5" x2="160.0" y2="1389.5" stroke="#141112" stroke-width="3.4" stroke-linecap="butt"/>
<line x1="939.5" y1="1389.5" x2="929.5" y2="1389.5" stroke="#141112" stroke-width="3.4" stroke-linecap="butt"/>
<line x1="154.5" y1="920.3" x2="160.0" y2="920.3" stroke="#141112" stroke-width="3.4" stroke-linecap="butt"/>
<line x1="939.5" y1="920.3" x2="934.0" y2="920.3" stroke="#141112" stroke-width="3.4" stroke-linecap="butt"/>
<line x1="154.5" y1="1025.0" x2="160.0" y2="1025.0" stroke="#141112" stroke-width="3.4" stroke-linecap="butt"/>
<line x1="939.5" y1="1025.0" x2="934.0" y2="1025.0" stroke="#141112" stroke-width="3.4" stroke-linecap="butt"/>
<line x1="154.5" y1="1129.7" x2="160.0" y2="1129.7" stroke="#141112" stroke-width="3.4" stroke-linecap="butt"/>
<line x1="939.5" y1="1129.7" x2="934.0" y2="1129.7" stroke="#141112" stroke-width="3.4" stroke-linecap="butt"/>
<line x1="154.5" y1="1234.4" x2="160.0" y2="1234.4" stroke="#141112" stroke-width="3.4" stroke-linecap="butt"/>
<line x1="939.5" y1="1234.4" x2="934.0" y2="1234.4" stroke="#141112" stroke-width="3.4" stroke-linecap="butt"/>
<line x1="154.5" y1="1339.0" x2="160.0" y2="1339.0" stroke="#141112" stroke-width="3.4" stroke-linecap="butt"/>
<line x1="939.5" y1="1339.0" x2="934.0" y2="1339.0" stroke="#141112" stroke-width="3.4" stroke-linecap="butt"/>
<line x1="195.5" y1="1389.5" x2="195.5" y2="1400.5" stroke="#141112" stroke-width="3.4" stroke-linecap="butt"/>
<line x1="195.5" y1="817.4" x2="195.5" y2="827.9" stroke="#141112" stroke-width="3.4" stroke-linecap="butt"/>
<line x1="336.9" y1="1389.5" x2="336.9" y2="1400.5" stroke="#141112" stroke-width="3.4" stroke-linecap="butt"/>
<line x1="336.9" y1="817.4" x2="336.9" y2="827.9" stroke="#141112" stroke-width="3.4" stroke-linecap="butt"/>
<line x1="478.3" y1="1389.5" x2="478.3" y2="1400.5" stroke="#141112" stroke-width="3.4" stroke-linecap="butt"/>
<line x1="478.3" y1="817.4" x2="478.3" y2="827.9" stroke="#141112" stroke-width="3.4" stroke-linecap="butt"/>
<line x1="619.9" y1="1389.5" x2="619.9" y2="1400.5" stroke="#141112" stroke-width="3.4" stroke-linecap="butt"/>
<line x1="619.9" y1="817.4" x2="619.9" y2="827.9" stroke="#141112" stroke-width="3.4" stroke-linecap="butt"/>
<line x1="761.9" y1="1389.5" x2="761.9" y2="1400.5" stroke="#141112" stroke-width="3.4" stroke-linecap="butt"/>
<line x1="761.9" y1="817.4" x2="761.9" y2="827.9" stroke="#141112" stroke-width="3.4" stroke-linecap="butt"/>
<line x1="903.8" y1="1389.5" x2="903.8" y2="1400.5" stroke="#141112" stroke-width="3.4" stroke-linecap="butt"/>
<line x1="903.8" y1="817.4" x2="903.8" y2="827.9" stroke="#141112" stroke-width="3.4" stroke-linecap="butt"/>
<line x1="266.5" y1="1389.5" x2="266.5" y2="1395.0" stroke="#141112" stroke-width="3.4" stroke-linecap="butt"/>
<line x1="266.5" y1="817.4" x2="266.5" y2="822.5" stroke="#141112" stroke-width="3.4" stroke-linecap="butt"/>
<line x1="407.7" y1="1389.5" x2="407.7" y2="1395.0" stroke="#141112" stroke-width="3.4" stroke-linecap="butt"/>
<line x1="407.7" y1="817.4" x2="407.7" y2="822.5" stroke="#141112" stroke-width="3.4" stroke-linecap="butt"/>
<line x1="549.0" y1="1389.5" x2="549.0" y2="1395.0" stroke="#141112" stroke-width="3.4" stroke-linecap="butt"/>
<line x1="549.0" y1="817.4" x2="549.0" y2="822.5" stroke="#141112" stroke-width="3.4" stroke-linecap="butt"/>
<line x1="691.5" y1="1389.5" x2="691.5" y2="1395.0" stroke="#141112" stroke-width="3.4" stroke-linecap="butt"/>
<line x1="691.5" y1="817.4" x2="691.5" y2="822.5" stroke="#141112" stroke-width="3.4" stroke-linecap="butt"/>
<line x1="833.0" y1="1389.5" x2="833.0" y2="1395.0" stroke="#141112" stroke-width="3.4" stroke-linecap="butt"/>
<line x1="833.0" y1="817.4" x2="833.0" y2="822.5" stroke="#141112" stroke-width="3.4" stroke-linecap="butt"/>
<text transform="translate(141.00,880.20) scale(1.0001,1.0500)" font-size="35.8" text-anchor="end" font-weight="bold" >2.4</text>
<text transform="translate(142.00,984.30) scale(1.0213,1.0500)" font-size="35.8" text-anchor="end" font-weight="bold" >2.2</text>
<text transform="translate(142.00,1089.60) scale(1.0213,1.0500)" font-size="35.8" text-anchor="end" font-weight="bold" >2.0</text>
<text transform="translate(142.00,1193.80) scale(1.0044,1.0500)" font-size="35.8" text-anchor="end" font-weight="bold" >1.8</text>
<text transform="translate(141.00,1298.40) scale(0.9827,1.0500)" font-size="35.8" text-anchor="end" font-weight="bold" >1.6</text>
<text transform="translate(141.00,1403.70) scale(0.9831,1.0500)" font-size="35.8" text-anchor="end" font-weight="bold" >1.4</text>
<text transform="translate(198.60,1436.00) scale(1.0000,1.0500)" font-size="35.8" text-anchor="middle" font-weight="bold" >0.000</text>
<text transform="translate(338.20,1436.00) scale(1.0000,1.0500)" font-size="35.8" text-anchor="middle" font-weight="bold" >0.002</text>
<text transform="translate(480.00,1436.00) scale(1.0000,1.0500)" font-size="35.8" text-anchor="middle" font-weight="bold" >0.004</text>
<text transform="translate(620.50,1436.00) scale(1.0000,1.0500)" font-size="35.8" text-anchor="middle" font-weight="bold" >0.006</text>
<text transform="translate(763.20,1436.00) scale(1.0000,1.0500)" font-size="35.8" text-anchor="middle" font-weight="bold" >0.008</text>
<text transform="translate(904.50,1436.00) scale(1.0000,1.0500)" font-size="35.8" text-anchor="middle" font-weight="bold" >0.010</text>
<text transform="translate(266.20,1491.00) scale(1.0000,1.0150)" font-size="41.4" text-anchor="start" font-weight="bold" >L-malate concentration (mM)</text>
<g transform="translate(0,1366.30) rotate(-90)"><text transform="translate(-1.65,42.00) scale(0.9845,1)" font-size="42" font-weight="bold" >Current density</text><text transform="translate(314.75,42.20) scale(1.0000,1)" font-size="42.4" font-weight="normal" stroke="#111" stroke-width="0.9">(</text><path transform="translate(336,42)" d="M3.1,-19.8 L3.1,-4.5 Q3.1,-0.6 9.2,-0.6 Q15.3,-0.6 15.3,-4.5 M15.3,-19.8 L15.3,-3.2 Q15.3,-0.9 19.3,-1.6 M3.1,-3 L3.1,5.2 Q3.4,6.6 5.6,6.6" fill="none" stroke="#111" stroke-width="3.0" stroke-linecap="butt"/><text transform="translate(361.65,42.10) scale(0.9800,1)" font-size="43" font-weight="bold" >A</text><text transform="translate(401.70,42.00) scale(1.0000,1)" font-size="41.6" font-weight="bold" >cm</text><text transform="translate(459.70,26.00) scale(0.9680,1)" font-size="28" font-weight="bold" >-2</text><text transform="translate(487.10,42.20) scale(0.8000,1)" font-size="42.5" font-weight="normal" stroke="#111" stroke-width="0.9">)</text></g>
<line x1="219.5" y1="1337.2" x2="310.7" y2="1007.0" stroke="#111" stroke-width="3.6" stroke-linecap="round"/>
<line x1="228.5" y1="1297.4" x2="228.5" y2="1321.4" stroke="#333" stroke-width="1.8" stroke-linecap="butt"/>
<line x1="220.9" y1="1297.4" x2="236.1" y2="1297.4" stroke="#111" stroke-width="3.0" stroke-linecap="butt"/>
<line x1="220.9" y1="1321.4" x2="236.1" y2="1321.4" stroke="#111" stroke-width="3.0" stroke-linecap="butt"/>
<rect x="221.9" y="1303.4" width="13.2" height="13.2" fill="#0d0a0b"/>
<line x1="234.4" y1="1292.0" x2="234.4" y2="1315.4" stroke="#333" stroke-width="1.8" stroke-linecap="butt"/>
<line x1="226.8" y1="1292.0" x2="242.0" y2="1292.0" stroke="#111" stroke-width="3.0" stroke-linecap="butt"/>
<line x1="226.8" y1="1315.4" x2="242.0" y2="1315.4" stroke="#111" stroke-width="3.0" stroke-linecap="butt"/>
<rect x="227.8" y="1296.8" width="13.2" height="13.2" fill="#0d0a0b"/>
<line x1="243.2" y1="1263.0" x2="243.2" y2="1286.3" stroke="#333" stroke-width="1.8" stroke-linecap="butt"/>
<line x1="235.6" y1="1263.0" x2="250.8" y2="1263.0" stroke="#111" stroke-width="3.0" stroke-linecap="butt"/>
<line x1="235.6" y1="1286.3" x2="250.8" y2="1286.3" stroke="#111" stroke-width="3.0" stroke-linecap="butt"/>
<rect x="236.6" y="1268.1" width="13.2" height="13.2" fill="#0d0a0b"/>
<line x1="263.4" y1="1185.9" x2="263.4" y2="1222.7" stroke="#333" stroke-width="1.8" stroke-linecap="butt"/>
<line x1="255.8" y1="1185.9" x2="271.0" y2="1185.9" stroke="#111" stroke-width="3.0" stroke-linecap="butt"/>
<line x1="255.8" y1="1222.7" x2="271.0" y2="1222.7" stroke="#111" stroke-width="3.0" stroke-linecap="butt"/>
<rect x="256.8" y="1197.9" width="13.2" height="13.2" fill="#0d0a0b"/>
<line x1="280.2" y1="1112.5" x2="280.2" y2="1148.9" stroke="#333" stroke-width="1.8" stroke-linecap="butt"/>
<line x1="272.6" y1="1112.5" x2="287.8" y2="1112.5" stroke="#111" stroke-width="3.0" stroke-linecap="butt"/>
<line x1="272.6" y1="1148.9" x2="287.8" y2="1148.9" stroke="#111" stroke-width="3.0" stroke-linecap="butt"/>
<rect x="273.6" y="1124.1" width="13.2" height="13.2" fill="#0d0a0b"/>
<line x1="295.9" y1="1026.3" x2="295.9" y2="1059.7" stroke="#333" stroke-width="1.8" stroke-linecap="butt"/>
<line x1="288.3" y1="1026.3" x2="303.5" y2="1026.3" stroke="#111" stroke-width="3.0" stroke-linecap="butt"/>
<line x1="288.3" y1="1059.7" x2="303.5" y2="1059.7" stroke="#111" stroke-width="3.0" stroke-linecap="butt"/>
<rect x="289.3" y="1036.6" width="13.2" height="13.2" fill="#0d0a0b"/>
<line x1="395.9" y1="920.1" x2="395.9" y2="969.2" stroke="#333" stroke-width="1.8" stroke-linecap="butt"/>
<line x1="388.3" y1="920.1" x2="403.5" y2="920.1" stroke="#111" stroke-width="3.0" stroke-linecap="butt"/>
<line x1="388.3" y1="969.2" x2="403.5" y2="969.2" stroke="#111" stroke-width="3.0" stroke-linecap="butt"/>
<rect x="389.3" y="937.6" width="13.2" height="13.2" fill="#0d0a0b"/>
<line x1="558.6" y1="888.3" x2="558.6" y2="937.6" stroke="#333" stroke-width="1.8" stroke-linecap="butt"/>
<line x1="551.0" y1="888.3" x2="566.2" y2="888.3" stroke="#111" stroke-width="3.0" stroke-linecap="butt"/>
<line x1="551.0" y1="937.6" x2="566.2" y2="937.6" stroke="#111" stroke-width="3.0" stroke-linecap="butt"/>
<rect x="552.0" y="906.5" width="13.2" height="13.2" fill="#0d0a0b"/>
<line x1="883.3" y1="878.0" x2="883.3" y2="927.6" stroke="#333" stroke-width="1.8" stroke-linecap="butt"/>
<line x1="875.7" y1="878.0" x2="890.9" y2="878.0" stroke="#111" stroke-width="3.0" stroke-linecap="butt"/>
<line x1="875.7" y1="927.6" x2="890.9" y2="927.6" stroke="#111" stroke-width="3.0" stroke-linecap="butt"/>
<rect x="876.7" y="895.7" width="13.2" height="13.2" fill="#0d0a0b"/>
<g opacity="0.55"><circle cx="231" cy="787" r="1.6" fill="#d9b8f0"/><circle cx="231" cy="796" r="1.6" fill="#c0efc0"/><circle cx="231" cy="803" r="1.6" fill="#f7c0c0"/><circle cx="549.4" cy="845" r="1.6" fill="#c0efc0"/></g>
</g>
</svg></body></html>
